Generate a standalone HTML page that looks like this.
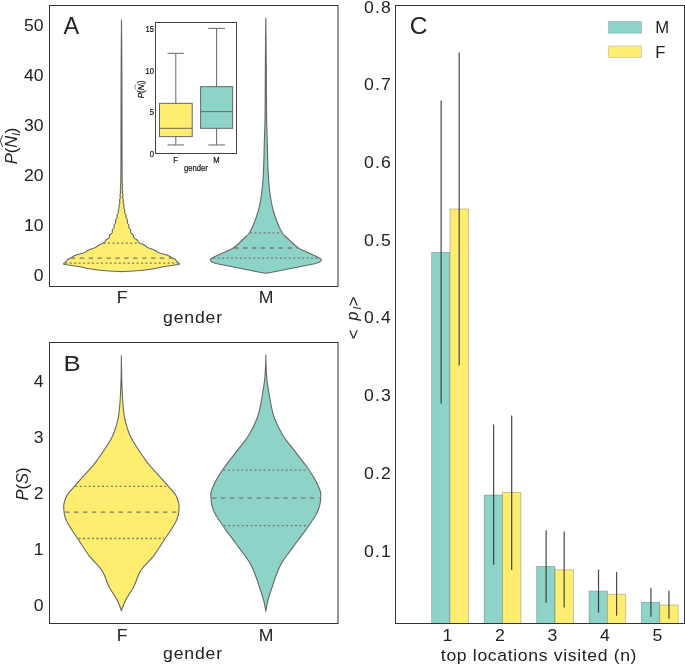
<!DOCTYPE html>
<html><head><meta charset="utf-8"><style>
html,body{margin:0;padding:0;background:#fff;}
svg{display:block;will-change:transform;}
text{font-family:"Liberation Sans", sans-serif;}
</style></head><body>
<svg width="685" height="664" viewBox="0 0 685 664">
<rect width="685" height="664" fill="#fff"/>
<rect x="49.5" y="5.5" width="288.5" height="281" fill="none" stroke="#333" stroke-width="1"/>
<path d="M121.50,20.00 L121.50,20.25 L121.50,20.50 L121.49,20.75 L121.49,21.00 L121.49,21.25 L121.49,21.50 L121.48,21.75 L121.48,22.00 L121.48,22.25 L121.48,22.50 L121.47,22.75 L121.47,23.00 L121.47,23.25 L121.47,23.50 L121.47,23.75 L121.46,24.00 L121.46,24.25 L121.46,24.50 L121.46,24.75 L121.45,25.00 L121.45,25.25 L121.45,25.50 L121.45,25.75 L121.45,26.00 L121.44,26.25 L121.44,26.50 L121.44,26.75 L121.44,27.00 L121.43,27.25 L121.43,27.50 L121.43,27.75 L121.43,28.00 L121.43,28.25 L121.42,28.50 L121.42,28.75 L121.42,29.00 L121.42,29.25 L121.41,29.50 L121.41,29.75 L121.41,30.00 L121.41,30.25 L121.41,30.50 L121.40,30.75 L121.40,31.00 L121.40,31.25 L121.40,31.50 L121.40,31.75 L121.39,32.00 L121.39,32.25 L121.39,32.50 L121.39,32.75 L121.38,33.00 L121.38,33.25 L121.38,33.50 L121.38,33.75 L121.38,34.00 L121.37,34.25 L121.37,34.50 L121.37,34.75 L121.37,35.00 L121.37,35.25 L121.36,35.50 L121.36,35.75 L121.36,36.00 L121.36,36.25 L121.36,36.50 L121.35,36.75 L121.35,37.00 L121.35,37.25 L121.35,37.50 L121.35,37.75 L121.34,38.00 L121.34,38.25 L121.34,38.50 L121.34,38.75 L121.34,39.00 L121.33,39.25 L121.33,39.50 L121.33,39.75 L121.33,40.00 L121.33,40.25 L121.32,40.50 L121.32,40.75 L121.32,41.00 L121.32,41.25 L121.32,41.50 L121.31,41.75 L121.31,42.00 L121.31,42.25 L121.31,42.50 L121.31,42.75 L121.31,43.00 L121.30,43.25 L121.30,43.50 L121.30,43.75 L121.30,44.00 L121.30,44.25 L121.29,44.50 L121.29,44.75 L121.29,45.00 L121.29,45.25 L121.29,45.50 L121.29,45.75 L121.28,46.00 L121.28,46.25 L121.28,46.50 L121.28,46.75 L121.28,47.00 L121.27,47.25 L121.27,47.50 L121.27,47.75 L121.27,48.00 L121.27,48.25 L121.27,48.50 L121.26,48.75 L121.26,49.00 L121.26,49.25 L121.26,49.50 L121.26,49.75 L121.26,50.00 L121.25,50.25 L121.25,50.50 L121.25,50.75 L121.25,51.00 L121.25,51.25 L121.25,51.50 L121.25,51.75 L121.24,52.00 L121.24,52.25 L121.24,52.50 L121.24,52.75 L121.24,53.00 L121.24,53.25 L121.23,53.50 L121.23,53.75 L121.23,54.00 L121.23,54.25 L121.23,54.50 L121.23,54.75 L121.23,55.00 L121.22,55.25 L121.22,55.50 L121.22,55.75 L121.22,56.00 L121.22,56.25 L121.22,56.50 L121.22,56.75 L121.22,57.00 L121.21,57.25 L121.21,57.50 L121.21,57.75 L121.21,58.00 L121.21,58.25 L121.21,58.50 L121.21,58.75 L121.20,59.00 L121.20,59.25 L121.20,59.50 L121.20,59.75 L121.20,60.00 L121.20,60.25 L121.20,60.50 L121.20,60.75 L121.20,61.00 L121.19,61.25 L121.19,61.50 L121.19,61.75 L121.19,62.00 L121.19,62.25 L121.19,62.50 L121.19,62.75 L121.19,63.00 L121.18,63.25 L121.18,63.50 L121.18,63.75 L121.18,64.00 L121.18,64.25 L121.18,64.50 L121.18,64.75 L121.18,65.00 L121.18,65.25 L121.17,65.50 L121.17,65.75 L121.17,66.00 L121.17,66.25 L121.17,66.50 L121.17,66.75 L121.17,67.00 L121.17,67.25 L121.17,67.50 L121.17,67.75 L121.16,68.00 L121.16,68.25 L121.16,68.50 L121.16,68.75 L121.16,69.00 L121.16,69.25 L121.16,69.50 L121.16,69.75 L121.16,70.00 L121.15,70.25 L121.15,70.50 L121.15,70.75 L121.15,71.00 L121.15,71.25 L121.15,71.50 L121.15,71.75 L121.15,72.00 L121.15,72.25 L121.15,72.50 L121.14,72.75 L121.14,73.00 L121.14,73.25 L121.14,73.50 L121.14,73.75 L121.14,74.00 L121.14,74.25 L121.14,74.50 L121.14,74.75 L121.14,75.00 L121.13,75.25 L121.13,75.50 L121.13,75.75 L121.13,76.00 L121.13,76.25 L121.13,76.50 L121.13,76.75 L121.13,77.00 L121.13,77.25 L121.13,77.50 L121.13,77.75 L121.12,78.00 L121.12,78.25 L121.12,78.50 L121.12,78.75 L121.12,79.00 L121.12,79.25 L121.12,79.50 L121.12,79.75 L121.12,80.00 L121.12,80.25 L121.11,80.50 L121.11,80.75 L121.11,81.00 L121.11,81.25 L121.11,81.50 L121.11,81.75 L121.11,82.00 L121.11,82.25 L121.11,82.50 L121.11,82.75 L121.11,83.00 L121.11,83.25 L121.10,83.50 L121.10,83.75 L121.10,84.00 L121.10,84.25 L121.10,84.50 L121.10,84.75 L121.10,85.00 L121.10,85.25 L121.10,85.50 L121.10,85.75 L121.10,86.00 L121.09,86.25 L121.09,86.50 L121.09,86.75 L121.09,87.00 L121.09,87.25 L121.09,87.50 L121.09,87.75 L121.09,88.00 L121.09,88.25 L121.09,88.50 L121.09,88.75 L121.09,89.00 L121.08,89.25 L121.08,89.50 L121.08,89.75 L121.08,90.00 L121.08,90.25 L121.08,90.50 L121.08,90.75 L121.08,91.00 L121.08,91.25 L121.08,91.50 L121.08,91.75 L121.08,92.00 L121.08,92.25 L121.07,92.50 L121.07,92.75 L121.07,93.00 L121.07,93.25 L121.07,93.50 L121.07,93.75 L121.07,94.00 L121.07,94.25 L121.07,94.50 L121.07,94.75 L121.07,95.00 L121.07,95.25 L121.07,95.50 L121.06,95.75 L121.06,96.00 L121.06,96.25 L121.06,96.50 L121.06,96.75 L121.06,97.00 L121.06,97.25 L121.06,97.50 L121.06,97.75 L121.06,98.00 L121.06,98.25 L121.06,98.50 L121.06,98.75 L121.05,99.00 L121.05,99.25 L121.05,99.50 L121.05,99.75 L121.05,100.00 L121.05,100.25 L121.05,100.50 L121.05,100.75 L121.05,101.00 L121.05,101.25 L121.05,101.50 L121.05,101.75 L121.05,102.00 L121.05,102.25 L121.05,102.50 L121.04,102.75 L121.04,103.00 L121.04,103.25 L121.04,103.50 L121.04,103.75 L121.04,104.00 L121.04,104.25 L121.04,104.50 L121.04,104.75 L121.04,105.00 L121.04,105.25 L121.04,105.50 L121.04,105.75 L121.04,106.00 L121.03,106.25 L121.03,106.50 L121.03,106.75 L121.03,107.00 L121.03,107.25 L121.03,107.50 L121.03,107.75 L121.03,108.00 L121.03,108.25 L121.03,108.50 L121.03,108.75 L121.03,109.00 L121.03,109.25 L121.03,109.50 L121.03,109.75 L121.02,110.00 L121.02,110.25 L121.02,110.50 L121.02,110.75 L121.02,111.00 L121.02,111.25 L121.02,111.50 L121.02,111.75 L121.02,112.00 L121.02,112.25 L121.02,112.50 L121.02,112.75 L121.02,113.00 L121.02,113.25 L121.02,113.50 L121.02,113.75 L121.01,114.00 L121.01,114.25 L121.01,114.50 L121.01,114.75 L121.01,115.00 L121.01,115.25 L121.01,115.50 L121.01,115.75 L121.01,116.00 L121.01,116.25 L121.01,116.50 L121.01,116.75 L121.01,117.00 L121.01,117.25 L121.01,117.50 L121.01,117.75 L121.00,118.00 L121.00,118.25 L121.00,118.50 L121.00,118.75 L121.00,119.00 L121.00,119.25 L121.00,119.50 L121.00,119.75 L121.00,120.00 L121.00,120.25 L121.00,120.50 L121.00,120.75 L121.00,121.00 L121.00,121.25 L121.00,121.50 L121.00,121.75 L121.00,122.00 L120.99,122.25 L120.99,122.50 L120.99,122.75 L120.99,123.00 L120.99,123.25 L120.99,123.50 L120.99,123.75 L120.99,124.00 L120.99,124.25 L120.99,124.50 L120.99,124.75 L120.99,125.00 L120.99,125.25 L120.99,125.50 L120.99,125.75 L120.99,126.00 L120.99,126.25 L120.99,126.50 L120.99,126.75 L120.99,127.00 L120.99,127.25 L120.99,127.50 L120.98,127.75 L120.98,128.00 L120.98,128.25 L120.98,128.50 L120.98,128.75 L120.98,129.00 L120.98,129.25 L120.98,129.50 L120.98,129.75 L120.98,130.00 L120.98,130.25 L120.98,130.50 L120.98,130.75 L120.98,131.00 L120.98,131.25 L120.98,131.50 L120.98,131.75 L120.98,132.00 L120.98,132.25 L120.98,132.50 L120.98,132.75 L120.98,133.00 L120.98,133.25 L120.98,133.50 L120.98,133.75 L120.98,134.00 L120.98,134.25 L120.98,134.50 L120.97,134.75 L120.97,135.00 L120.97,135.25 L120.97,135.50 L120.97,135.75 L120.97,136.00 L120.97,136.25 L120.97,136.50 L120.97,136.75 L120.97,137.00 L120.97,137.25 L120.97,137.50 L120.97,137.75 L120.97,138.00 L120.97,138.25 L120.97,138.50 L120.97,138.75 L120.97,139.00 L120.97,139.25 L120.97,139.50 L120.97,139.75 L120.97,140.00 L120.97,140.25 L120.97,140.50 L120.97,140.75 L120.97,141.00 L120.97,141.25 L120.97,141.50 L120.97,141.75 L120.97,142.00 L120.97,142.25 L120.97,142.50 L120.97,142.75 L120.97,143.00 L120.97,143.25 L120.96,143.50 L120.96,143.75 L120.96,144.00 L120.96,144.25 L120.96,144.50 L120.96,144.75 L120.96,145.00 L120.96,145.25 L120.96,145.50 L120.96,145.75 L120.96,146.00 L120.96,146.25 L120.96,146.50 L120.96,146.75 L120.96,147.00 L120.96,147.25 L120.96,147.50 L120.96,147.75 L120.96,148.00 L120.96,148.25 L120.96,148.50 L120.96,148.75 L120.96,149.00 L120.96,149.25 L120.96,149.50 L120.96,149.75 L120.96,150.00 L120.96,150.25 L120.96,150.50 L120.96,150.75 L120.96,151.00 L120.96,151.25 L120.95,151.50 L120.95,151.75 L120.95,152.00 L120.95,152.25 L120.95,152.50 L120.95,152.75 L120.95,153.00 L120.95,153.25 L120.95,153.50 L120.95,153.75 L120.95,154.00 L120.95,154.25 L120.95,154.50 L120.95,154.75 L120.95,155.00 L120.95,155.25 L120.95,155.50 L120.95,155.75 L120.95,156.00 L120.95,156.25 L120.95,156.50 L120.95,156.75 L120.95,157.00 L120.95,157.25 L120.94,157.50 L120.94,157.75 L120.94,158.00 L120.94,158.25 L120.94,158.50 L120.94,158.75 L120.94,159.00 L120.94,159.25 L120.94,159.50 L120.94,159.75 L120.94,160.00 L120.94,160.25 L120.94,160.50 L120.94,160.75 L120.94,161.00 L120.94,161.25 L120.94,161.50 L120.94,161.75 L120.94,162.00 L120.93,162.25 L120.93,162.50 L120.93,162.75 L120.93,163.00 L120.93,163.25 L120.93,163.50 L120.93,163.75 L120.93,164.00 L120.93,164.25 L120.93,164.50 L120.93,164.75 L120.93,165.00 L120.93,165.25 L120.93,165.50 L120.93,165.75 L120.92,166.00 L120.92,166.25 L120.92,166.50 L120.92,166.75 L120.92,167.00 L120.92,167.25 L120.92,167.50 L120.92,167.75 L120.92,168.00 L120.92,168.25 L120.92,168.50 L120.92,168.75 L120.91,169.00 L120.91,169.25 L120.91,169.50 L120.91,169.75 L120.91,170.00 L120.91,170.25 L120.91,170.50 L120.91,170.75 L120.91,171.00 L120.91,171.25 L120.91,171.50 L120.90,171.75 L120.90,172.00 L120.90,172.25 L120.90,172.50 L120.90,172.75 L120.90,173.00 L120.90,173.25 L120.90,173.50 L120.90,173.75 L120.89,174.00 L120.89,174.25 L120.89,174.50 L120.89,174.75 L120.89,175.00 L120.88,175.25 L120.88,175.50 L120.88,175.75 L120.87,176.00 L120.87,176.25 L120.87,176.50 L120.86,176.75 L120.86,177.00 L120.86,177.25 L120.85,177.50 L120.85,177.75 L120.84,178.00 L120.84,178.25 L120.84,178.50 L120.83,178.75 L120.82,179.00 L120.81,179.25 L120.79,179.50 L120.78,179.75 L120.76,180.00 L120.75,180.25 L120.74,180.50 L120.75,180.75 L120.75,181.00 L120.77,181.25 L120.78,181.50 L120.80,181.75 L120.82,182.00 L120.84,182.25 L120.84,182.50 L120.84,182.75 L120.83,183.00 L120.80,183.25 L120.77,183.50 L120.72,183.75 L120.68,184.00 L120.63,184.25 L120.58,184.50 L120.54,184.75 L120.51,185.00 L120.50,185.25 L120.51,185.50 L120.53,185.75 L120.56,186.00 L120.61,186.25 L120.66,186.50 L120.71,186.75 L120.75,187.00 L120.79,187.25 L120.80,187.50 L120.80,187.75 L120.77,188.00 L120.72,188.25 L120.65,188.50 L120.57,188.75 L120.49,189.00 L120.42,189.25 L120.35,189.50 L120.30,189.75 L120.27,190.00 L120.26,190.25 L120.28,190.50 L120.31,190.75 L120.36,191.00 L120.42,191.25 L120.48,191.50 L120.54,191.75 L120.58,192.00 L120.61,192.25 L120.62,192.50 L120.61,192.75 L120.57,193.00 L120.51,193.25 L120.43,193.50 L120.35,193.75 L120.26,194.00 L120.18,194.25 L120.10,194.50 L120.04,194.75 L120.01,195.00 L119.99,195.25 L120.00,195.50 L120.03,195.75 L120.07,196.00 L120.12,196.25 L120.18,196.50 L120.23,196.75 L120.28,197.00 L120.30,197.25 L120.30,197.50 L120.28,197.75 L120.23,198.00 L120.17,198.25 L120.08,198.50 L119.99,198.75 L119.89,199.00 L119.79,199.25 L119.71,199.50 L119.64,199.75 L119.60,200.00 L119.57,200.25 L119.58,200.50 L119.60,200.75 L119.64,201.00 L119.69,201.25 L119.75,201.50 L119.80,201.75 L119.83,202.00 L119.85,202.25 L119.85,202.50 L119.82,202.75 L119.77,203.00 L119.69,203.25 L119.60,203.50 L119.49,203.75 L119.38,204.00 L119.28,204.25 L119.18,204.50 L119.11,204.75 L119.06,205.00 L119.03,205.25 L119.03,205.50 L119.05,205.75 L119.09,206.00 L119.14,206.25 L119.19,206.50 L119.23,206.75 L119.27,207.00 L119.28,207.25 L119.27,207.50 L119.22,207.75 L119.16,208.00 L119.06,208.25 L118.95,208.50 L118.82,208.75 L118.68,209.00 L118.55,209.25 L118.43,209.50 L118.33,209.75 L118.26,210.00 L118.21,210.25 L118.18,210.50 L118.19,210.75 L118.21,211.00 L118.24,211.25 L118.28,211.50 L118.31,211.75 L118.33,212.00 L118.33,212.25 L118.29,212.50 L118.23,212.75 L118.14,213.00 L118.02,213.25 L117.88,213.50 L117.72,213.75 L117.56,214.00 L117.41,214.25 L117.26,214.50 L117.14,214.75 L117.04,215.00 L116.98,215.25 L116.94,215.50 L116.94,215.75 L116.96,216.00 L116.99,216.25 L117.03,216.50 L117.06,216.75 L117.08,217.00 L117.07,217.25 L117.03,217.50 L116.96,217.75 L116.86,218.00 L116.72,218.25 L116.57,218.50 L116.39,218.75 L116.21,219.00 L116.03,219.25 L115.88,219.50 L115.74,219.75 L115.64,220.00 L115.57,220.25 L115.54,220.50 L115.54,220.75 L115.56,221.00 L115.61,221.25 L115.65,221.50 L115.70,221.75 L115.72,222.00 L115.72,222.25 L115.69,222.50 L115.61,222.75 L115.50,223.00 L115.36,223.25 L115.18,223.50 L114.99,223.75 L114.79,224.00 L114.60,224.25 L114.42,224.50 L114.27,224.75 L114.16,225.00 L114.08,225.25 L114.05,225.50 L114.05,225.75 L114.07,226.00 L114.12,226.25 L114.17,226.50 L114.21,226.75 L114.23,227.00 L114.22,227.25 L114.18,227.50 L114.09,227.75 L113.96,228.00 L113.78,228.25 L113.58,228.50 L113.36,228.75 L113.12,229.00 L112.89,229.25 L112.68,229.50 L112.50,229.75 L112.36,230.00 L112.26,230.25 L112.21,230.50 L112.19,230.75 L112.21,231.00 L112.24,231.25 L112.28,231.50 L112.31,231.75 L112.32,232.00 L112.30,232.25 L112.23,232.50 L112.11,232.75 L111.94,233.00 L111.72,233.25 L111.47,233.50 L111.18,233.75 L110.89,234.00 L110.59,234.25 L110.32,234.50 L110.07,234.75 L109.87,235.00 L109.71,235.25 L109.60,235.50 L109.54,235.75 L109.51,236.00 L109.50,236.25 L109.50,236.50 L109.48,236.75 L109.44,237.00 L109.36,237.25 L109.22,237.50 L109.03,237.75 L108.77,238.00 L108.45,238.25 L108.09,238.50 L107.70,238.75 L107.28,239.00 L106.88,239.25 L106.49,239.50 L106.15,239.75 L105.86,240.00 L105.62,240.25 L105.44,240.50 L105.30,240.75 L105.20,241.00 L105.11,241.25 L105.02,241.50 L104.91,241.75 L104.75,242.00 L104.54,242.25 L104.27,242.50 L103.92,242.75 L103.50,243.00 L103.01,243.25 L102.48,243.50 L101.90,243.75 L101.29,244.00 L100.68,244.25 L100.09,244.50 L99.52,244.75 L99.00,245.00 L98.53,245.25 L98.11,245.50 L97.73,245.75 L97.39,246.00 L97.07,246.25 L96.76,246.50 L96.42,246.75 L96.05,247.00 L95.64,247.25 L95.16,247.50 L94.63,247.75 L94.03,248.00 L93.38,248.25 L92.69,248.50 L91.98,248.75 L91.26,249.00 L90.56,249.25 L89.88,249.50 L89.25,249.75 L88.67,250.00 L88.16,250.25 L87.70,250.50 L87.29,250.75 L86.92,251.00 L86.57,251.25 L86.23,251.50 L85.86,251.75 L85.46,252.00 L85.00,252.25 L84.47,252.50 L83.85,252.75 L83.14,253.00 L82.34,253.25 L81.49,253.50 L80.60,253.75 L79.68,254.00 L78.77,254.25 L77.89,254.50 L77.05,254.75 L76.28,255.00 L75.57,255.25 L74.94,255.50 L74.38,255.75 L73.89,256.00 L73.44,256.25 L73.03,256.50 L72.64,256.75 L72.25,257.00 L71.86,257.25 L71.45,257.50 L71.02,257.75 L70.57,258.00 L70.05,258.25 L69.54,258.50 L69.03,258.75 L68.57,259.00 L68.15,259.25 L67.78,259.50 L67.47,259.75 L67.21,260.00 L67.00,260.25 L66.81,260.50 L66.63,260.75 L66.45,261.00 L66.25,261.25 L66.03,261.50 L65.78,261.75 L65.50,262.00 L65.21,262.25 L64.89,262.50 L64.56,262.75 L64.24,263.00 L63.95,263.25 L63.71,263.50 L63.56,263.75 L63.50,264.00 L63.93,264.25 L65.05,264.50 L66.58,264.75 L68.25,265.00 L69.80,265.25 L71.44,265.50 L73.27,265.75 L75.15,266.00 L76.93,266.25 L78.50,266.50 L79.83,266.75 L81.02,267.00 L82.13,267.25 L83.20,267.50 L84.30,267.75 L85.47,268.00 L86.77,268.25 L88.12,268.50 L89.51,268.75 L90.97,269.00 L92.53,269.25 L94.23,269.50 L96.10,269.75 L98.17,270.00 L100.49,270.25 L103.11,270.50 L106.10,270.75 L109.50,271.00 L113.85,271.25 L119.21,271.50 L121.50,271.60 L121.50,271.60 L123.79,271.50 L129.15,271.25 L133.50,271.00 L136.90,270.75 L139.89,270.50 L142.51,270.25 L144.83,270.00 L146.90,269.75 L148.77,269.50 L150.47,269.25 L152.03,269.00 L153.49,268.75 L154.88,268.50 L156.23,268.25 L157.53,268.00 L158.70,267.75 L159.80,267.50 L160.87,267.25 L161.98,267.00 L163.17,266.75 L164.50,266.50 L166.07,266.25 L167.85,266.00 L169.73,265.75 L171.56,265.50 L173.20,265.25 L174.75,265.00 L176.42,264.75 L177.95,264.50 L179.07,264.25 L179.50,264.00 L179.44,263.75 L179.29,263.50 L179.05,263.25 L178.76,263.00 L178.44,262.75 L178.11,262.50 L177.79,262.25 L177.50,262.00 L177.22,261.75 L176.97,261.50 L176.75,261.25 L176.55,261.00 L176.37,260.75 L176.19,260.50 L176.00,260.25 L175.79,260.00 L175.53,259.75 L175.22,259.50 L174.85,259.25 L174.43,259.00 L173.97,258.75 L173.46,258.50 L172.95,258.25 L172.43,258.00 L171.98,257.75 L171.55,257.50 L171.14,257.25 L170.75,257.00 L170.36,256.75 L169.97,256.50 L169.56,256.25 L169.11,256.00 L168.62,255.75 L168.06,255.50 L167.43,255.25 L166.72,255.00 L165.95,254.75 L165.11,254.50 L164.23,254.25 L163.32,254.00 L162.40,253.75 L161.51,253.50 L160.66,253.25 L159.86,253.00 L159.15,252.75 L158.53,252.50 L158.00,252.25 L157.54,252.00 L157.14,251.75 L156.77,251.50 L156.43,251.25 L156.08,251.00 L155.71,250.75 L155.30,250.50 L154.84,250.25 L154.33,250.00 L153.75,249.75 L153.12,249.50 L152.44,249.25 L151.74,249.00 L151.02,248.75 L150.31,248.50 L149.62,248.25 L148.97,248.00 L148.37,247.75 L147.84,247.50 L147.36,247.25 L146.95,247.00 L146.58,246.75 L146.24,246.50 L145.93,246.25 L145.61,246.00 L145.27,245.75 L144.89,245.50 L144.47,245.25 L144.00,245.00 L143.48,244.75 L142.91,244.50 L142.32,244.25 L141.71,244.00 L141.10,243.75 L140.52,243.50 L139.99,243.25 L139.50,243.00 L139.08,242.75 L138.73,242.50 L138.46,242.25 L138.25,242.00 L138.09,241.75 L137.98,241.50 L137.89,241.25 L137.80,241.00 L137.70,240.75 L137.56,240.50 L137.38,240.25 L137.14,240.00 L136.85,239.75 L136.51,239.50 L136.12,239.25 L135.72,239.00 L135.30,238.75 L134.91,238.50 L134.55,238.25 L134.23,238.00 L133.97,237.75 L133.78,237.50 L133.64,237.25 L133.56,237.00 L133.52,236.75 L133.50,236.50 L133.50,236.25 L133.49,236.00 L133.46,235.75 L133.40,235.50 L133.29,235.25 L133.13,235.00 L132.93,234.75 L132.68,234.50 L132.41,234.25 L132.11,234.00 L131.82,233.75 L131.53,233.50 L131.28,233.25 L131.06,233.00 L130.89,232.75 L130.77,232.50 L130.70,232.25 L130.68,232.00 L130.69,231.75 L130.72,231.50 L130.76,231.25 L130.79,231.00 L130.81,230.75 L130.79,230.50 L130.74,230.25 L130.64,230.00 L130.50,229.75 L130.32,229.50 L130.11,229.25 L129.88,229.00 L129.64,228.75 L129.42,228.50 L129.22,228.25 L129.04,228.00 L128.91,227.75 L128.82,227.50 L128.78,227.25 L128.77,227.00 L128.79,226.75 L128.83,226.50 L128.88,226.25 L128.93,226.00 L128.95,225.75 L128.95,225.50 L128.92,225.25 L128.84,225.00 L128.73,224.75 L128.58,224.50 L128.40,224.25 L128.21,224.00 L128.01,223.75 L127.82,223.50 L127.64,223.25 L127.50,223.00 L127.39,222.75 L127.31,222.50 L127.28,222.25 L127.28,222.00 L127.30,221.75 L127.35,221.50 L127.39,221.25 L127.44,221.00 L127.46,220.75 L127.46,220.50 L127.43,220.25 L127.36,220.00 L127.26,219.75 L127.12,219.50 L126.97,219.25 L126.79,219.00 L126.61,218.75 L126.43,218.50 L126.28,218.25 L126.14,218.00 L126.04,217.75 L125.97,217.50 L125.93,217.25 L125.92,217.00 L125.94,216.75 L125.97,216.50 L126.01,216.25 L126.04,216.00 L126.06,215.75 L126.06,215.50 L126.02,215.25 L125.96,215.00 L125.86,214.75 L125.74,214.50 L125.59,214.25 L125.44,214.00 L125.28,213.75 L125.12,213.50 L124.98,213.25 L124.86,213.00 L124.77,212.75 L124.71,212.50 L124.67,212.25 L124.67,212.00 L124.69,211.75 L124.72,211.50 L124.76,211.25 L124.79,211.00 L124.81,210.75 L124.82,210.50 L124.79,210.25 L124.74,210.00 L124.67,209.75 L124.57,209.50 L124.45,209.25 L124.32,209.00 L124.18,208.75 L124.05,208.50 L123.94,208.25 L123.84,208.00 L123.78,207.75 L123.73,207.50 L123.72,207.25 L123.73,207.00 L123.77,206.75 L123.81,206.50 L123.86,206.25 L123.91,206.00 L123.95,205.75 L123.97,205.50 L123.97,205.25 L123.94,205.00 L123.89,204.75 L123.82,204.50 L123.72,204.25 L123.62,204.00 L123.51,203.75 L123.40,203.50 L123.31,203.25 L123.23,203.00 L123.18,202.75 L123.15,202.50 L123.15,202.25 L123.17,202.00 L123.20,201.75 L123.25,201.50 L123.31,201.25 L123.36,201.00 L123.40,200.75 L123.42,200.50 L123.43,200.25 L123.40,200.00 L123.36,199.75 L123.29,199.50 L123.21,199.25 L123.11,199.00 L123.01,198.75 L122.92,198.50 L122.83,198.25 L122.77,198.00 L122.72,197.75 L122.70,197.50 L122.70,197.25 L122.72,197.00 L122.77,196.75 L122.82,196.50 L122.88,196.25 L122.93,196.00 L122.97,195.75 L123.00,195.50 L123.01,195.25 L122.99,195.00 L122.96,194.75 L122.90,194.50 L122.82,194.25 L122.74,194.00 L122.65,193.75 L122.57,193.50 L122.49,193.25 L122.43,193.00 L122.39,192.75 L122.38,192.50 L122.39,192.25 L122.42,192.00 L122.46,191.75 L122.52,191.50 L122.58,191.25 L122.64,191.00 L122.69,190.75 L122.72,190.50 L122.74,190.25 L122.73,190.00 L122.70,189.75 L122.65,189.50 L122.58,189.25 L122.51,189.00 L122.43,188.75 L122.35,188.50 L122.28,188.25 L122.23,188.00 L122.20,187.75 L122.20,187.50 L122.21,187.25 L122.25,187.00 L122.29,186.75 L122.34,186.50 L122.39,186.25 L122.44,186.00 L122.47,185.75 L122.49,185.50 L122.50,185.25 L122.49,185.00 L122.46,184.75 L122.42,184.50 L122.37,184.25 L122.32,184.00 L122.28,183.75 L122.23,183.50 L122.20,183.25 L122.17,183.00 L122.16,182.75 L122.16,182.50 L122.16,182.25 L122.18,182.00 L122.20,181.75 L122.22,181.50 L122.23,181.25 L122.25,181.00 L122.25,180.75 L122.26,180.50 L122.25,180.25 L122.24,180.00 L122.22,179.75 L122.21,179.50 L122.19,179.25 L122.18,179.00 L122.17,178.75 L122.16,178.50 L122.16,178.25 L122.16,178.00 L122.15,177.75 L122.15,177.50 L122.14,177.25 L122.14,177.00 L122.14,176.75 L122.13,176.50 L122.13,176.25 L122.13,176.00 L122.12,175.75 L122.12,175.50 L122.12,175.25 L122.11,175.00 L122.11,174.75 L122.11,174.50 L122.11,174.25 L122.11,174.00 L122.10,173.75 L122.10,173.50 L122.10,173.25 L122.10,173.00 L122.10,172.75 L122.10,172.50 L122.10,172.25 L122.10,172.00 L122.10,171.75 L122.09,171.50 L122.09,171.25 L122.09,171.00 L122.09,170.75 L122.09,170.50 L122.09,170.25 L122.09,170.00 L122.09,169.75 L122.09,169.50 L122.09,169.25 L122.09,169.00 L122.08,168.75 L122.08,168.50 L122.08,168.25 L122.08,168.00 L122.08,167.75 L122.08,167.50 L122.08,167.25 L122.08,167.00 L122.08,166.75 L122.08,166.50 L122.08,166.25 L122.08,166.00 L122.07,165.75 L122.07,165.50 L122.07,165.25 L122.07,165.00 L122.07,164.75 L122.07,164.50 L122.07,164.25 L122.07,164.00 L122.07,163.75 L122.07,163.50 L122.07,163.25 L122.07,163.00 L122.07,162.75 L122.07,162.50 L122.07,162.25 L122.06,162.00 L122.06,161.75 L122.06,161.50 L122.06,161.25 L122.06,161.00 L122.06,160.75 L122.06,160.50 L122.06,160.25 L122.06,160.00 L122.06,159.75 L122.06,159.50 L122.06,159.25 L122.06,159.00 L122.06,158.75 L122.06,158.50 L122.06,158.25 L122.06,158.00 L122.06,157.75 L122.06,157.50 L122.05,157.25 L122.05,157.00 L122.05,156.75 L122.05,156.50 L122.05,156.25 L122.05,156.00 L122.05,155.75 L122.05,155.50 L122.05,155.25 L122.05,155.00 L122.05,154.75 L122.05,154.50 L122.05,154.25 L122.05,154.00 L122.05,153.75 L122.05,153.50 L122.05,153.25 L122.05,153.00 L122.05,152.75 L122.05,152.50 L122.05,152.25 L122.05,152.00 L122.05,151.75 L122.05,151.50 L122.04,151.25 L122.04,151.00 L122.04,150.75 L122.04,150.50 L122.04,150.25 L122.04,150.00 L122.04,149.75 L122.04,149.50 L122.04,149.25 L122.04,149.00 L122.04,148.75 L122.04,148.50 L122.04,148.25 L122.04,148.00 L122.04,147.75 L122.04,147.50 L122.04,147.25 L122.04,147.00 L122.04,146.75 L122.04,146.50 L122.04,146.25 L122.04,146.00 L122.04,145.75 L122.04,145.50 L122.04,145.25 L122.04,145.00 L122.04,144.75 L122.04,144.50 L122.04,144.25 L122.04,144.00 L122.04,143.75 L122.04,143.50 L122.03,143.25 L122.03,143.00 L122.03,142.75 L122.03,142.50 L122.03,142.25 L122.03,142.00 L122.03,141.75 L122.03,141.50 L122.03,141.25 L122.03,141.00 L122.03,140.75 L122.03,140.50 L122.03,140.25 L122.03,140.00 L122.03,139.75 L122.03,139.50 L122.03,139.25 L122.03,139.00 L122.03,138.75 L122.03,138.50 L122.03,138.25 L122.03,138.00 L122.03,137.75 L122.03,137.50 L122.03,137.25 L122.03,137.00 L122.03,136.75 L122.03,136.50 L122.03,136.25 L122.03,136.00 L122.03,135.75 L122.03,135.50 L122.03,135.25 L122.03,135.00 L122.03,134.75 L122.02,134.50 L122.02,134.25 L122.02,134.00 L122.02,133.75 L122.02,133.50 L122.02,133.25 L122.02,133.00 L122.02,132.75 L122.02,132.50 L122.02,132.25 L122.02,132.00 L122.02,131.75 L122.02,131.50 L122.02,131.25 L122.02,131.00 L122.02,130.75 L122.02,130.50 L122.02,130.25 L122.02,130.00 L122.02,129.75 L122.02,129.50 L122.02,129.25 L122.02,129.00 L122.02,128.75 L122.02,128.50 L122.02,128.25 L122.02,128.00 L122.02,127.75 L122.01,127.50 L122.01,127.25 L122.01,127.00 L122.01,126.75 L122.01,126.50 L122.01,126.25 L122.01,126.00 L122.01,125.75 L122.01,125.50 L122.01,125.25 L122.01,125.00 L122.01,124.75 L122.01,124.50 L122.01,124.25 L122.01,124.00 L122.01,123.75 L122.01,123.50 L122.01,123.25 L122.01,123.00 L122.01,122.75 L122.01,122.50 L122.01,122.25 L122.00,122.00 L122.00,121.75 L122.00,121.50 L122.00,121.25 L122.00,121.00 L122.00,120.75 L122.00,120.50 L122.00,120.25 L122.00,120.00 L122.00,119.75 L122.00,119.50 L122.00,119.25 L122.00,119.00 L122.00,118.75 L122.00,118.50 L122.00,118.25 L122.00,118.00 L121.99,117.75 L121.99,117.50 L121.99,117.25 L121.99,117.00 L121.99,116.75 L121.99,116.50 L121.99,116.25 L121.99,116.00 L121.99,115.75 L121.99,115.50 L121.99,115.25 L121.99,115.00 L121.99,114.75 L121.99,114.50 L121.99,114.25 L121.99,114.00 L121.98,113.75 L121.98,113.50 L121.98,113.25 L121.98,113.00 L121.98,112.75 L121.98,112.50 L121.98,112.25 L121.98,112.00 L121.98,111.75 L121.98,111.50 L121.98,111.25 L121.98,111.00 L121.98,110.75 L121.98,110.50 L121.98,110.25 L121.98,110.00 L121.97,109.75 L121.97,109.50 L121.97,109.25 L121.97,109.00 L121.97,108.75 L121.97,108.50 L121.97,108.25 L121.97,108.00 L121.97,107.75 L121.97,107.50 L121.97,107.25 L121.97,107.00 L121.97,106.75 L121.97,106.50 L121.97,106.25 L121.96,106.00 L121.96,105.75 L121.96,105.50 L121.96,105.25 L121.96,105.00 L121.96,104.75 L121.96,104.50 L121.96,104.25 L121.96,104.00 L121.96,103.75 L121.96,103.50 L121.96,103.25 L121.96,103.00 L121.96,102.75 L121.95,102.50 L121.95,102.25 L121.95,102.00 L121.95,101.75 L121.95,101.50 L121.95,101.25 L121.95,101.00 L121.95,100.75 L121.95,100.50 L121.95,100.25 L121.95,100.00 L121.95,99.75 L121.95,99.50 L121.95,99.25 L121.95,99.00 L121.94,98.75 L121.94,98.50 L121.94,98.25 L121.94,98.00 L121.94,97.75 L121.94,97.50 L121.94,97.25 L121.94,97.00 L121.94,96.75 L121.94,96.50 L121.94,96.25 L121.94,96.00 L121.94,95.75 L121.93,95.50 L121.93,95.25 L121.93,95.00 L121.93,94.75 L121.93,94.50 L121.93,94.25 L121.93,94.00 L121.93,93.75 L121.93,93.50 L121.93,93.25 L121.93,93.00 L121.93,92.75 L121.93,92.50 L121.92,92.25 L121.92,92.00 L121.92,91.75 L121.92,91.50 L121.92,91.25 L121.92,91.00 L121.92,90.75 L121.92,90.50 L121.92,90.25 L121.92,90.00 L121.92,89.75 L121.92,89.50 L121.92,89.25 L121.91,89.00 L121.91,88.75 L121.91,88.50 L121.91,88.25 L121.91,88.00 L121.91,87.75 L121.91,87.50 L121.91,87.25 L121.91,87.00 L121.91,86.75 L121.91,86.50 L121.91,86.25 L121.90,86.00 L121.90,85.75 L121.90,85.50 L121.90,85.25 L121.90,85.00 L121.90,84.75 L121.90,84.50 L121.90,84.25 L121.90,84.00 L121.90,83.75 L121.90,83.50 L121.89,83.25 L121.89,83.00 L121.89,82.75 L121.89,82.50 L121.89,82.25 L121.89,82.00 L121.89,81.75 L121.89,81.50 L121.89,81.25 L121.89,81.00 L121.89,80.75 L121.89,80.50 L121.88,80.25 L121.88,80.00 L121.88,79.75 L121.88,79.50 L121.88,79.25 L121.88,79.00 L121.88,78.75 L121.88,78.50 L121.88,78.25 L121.88,78.00 L121.87,77.75 L121.87,77.50 L121.87,77.25 L121.87,77.00 L121.87,76.75 L121.87,76.50 L121.87,76.25 L121.87,76.00 L121.87,75.75 L121.87,75.50 L121.87,75.25 L121.86,75.00 L121.86,74.75 L121.86,74.50 L121.86,74.25 L121.86,74.00 L121.86,73.75 L121.86,73.50 L121.86,73.25 L121.86,73.00 L121.86,72.75 L121.85,72.50 L121.85,72.25 L121.85,72.00 L121.85,71.75 L121.85,71.50 L121.85,71.25 L121.85,71.00 L121.85,70.75 L121.85,70.50 L121.85,70.25 L121.84,70.00 L121.84,69.75 L121.84,69.50 L121.84,69.25 L121.84,69.00 L121.84,68.75 L121.84,68.50 L121.84,68.25 L121.84,68.00 L121.83,67.75 L121.83,67.50 L121.83,67.25 L121.83,67.00 L121.83,66.75 L121.83,66.50 L121.83,66.25 L121.83,66.00 L121.83,65.75 L121.83,65.50 L121.82,65.25 L121.82,65.00 L121.82,64.75 L121.82,64.50 L121.82,64.25 L121.82,64.00 L121.82,63.75 L121.82,63.50 L121.82,63.25 L121.81,63.00 L121.81,62.75 L121.81,62.50 L121.81,62.25 L121.81,62.00 L121.81,61.75 L121.81,61.50 L121.81,61.25 L121.80,61.00 L121.80,60.75 L121.80,60.50 L121.80,60.25 L121.80,60.00 L121.80,59.75 L121.80,59.50 L121.80,59.25 L121.80,59.00 L121.79,58.75 L121.79,58.50 L121.79,58.25 L121.79,58.00 L121.79,57.75 L121.79,57.50 L121.79,57.25 L121.78,57.00 L121.78,56.75 L121.78,56.50 L121.78,56.25 L121.78,56.00 L121.78,55.75 L121.78,55.50 L121.78,55.25 L121.77,55.00 L121.77,54.75 L121.77,54.50 L121.77,54.25 L121.77,54.00 L121.77,53.75 L121.77,53.50 L121.76,53.25 L121.76,53.00 L121.76,52.75 L121.76,52.50 L121.76,52.25 L121.76,52.00 L121.75,51.75 L121.75,51.50 L121.75,51.25 L121.75,51.00 L121.75,50.75 L121.75,50.50 L121.75,50.25 L121.74,50.00 L121.74,49.75 L121.74,49.50 L121.74,49.25 L121.74,49.00 L121.74,48.75 L121.73,48.50 L121.73,48.25 L121.73,48.00 L121.73,47.75 L121.73,47.50 L121.73,47.25 L121.72,47.00 L121.72,46.75 L121.72,46.50 L121.72,46.25 L121.72,46.00 L121.71,45.75 L121.71,45.50 L121.71,45.25 L121.71,45.00 L121.71,44.75 L121.71,44.50 L121.70,44.25 L121.70,44.00 L121.70,43.75 L121.70,43.50 L121.70,43.25 L121.69,43.00 L121.69,42.75 L121.69,42.50 L121.69,42.25 L121.69,42.00 L121.69,41.75 L121.68,41.50 L121.68,41.25 L121.68,41.00 L121.68,40.75 L121.68,40.50 L121.67,40.25 L121.67,40.00 L121.67,39.75 L121.67,39.50 L121.67,39.25 L121.66,39.00 L121.66,38.75 L121.66,38.50 L121.66,38.25 L121.66,38.00 L121.65,37.75 L121.65,37.50 L121.65,37.25 L121.65,37.00 L121.65,36.75 L121.64,36.50 L121.64,36.25 L121.64,36.00 L121.64,35.75 L121.64,35.50 L121.63,35.25 L121.63,35.00 L121.63,34.75 L121.63,34.50 L121.63,34.25 L121.62,34.00 L121.62,33.75 L121.62,33.50 L121.62,33.25 L121.62,33.00 L121.61,32.75 L121.61,32.50 L121.61,32.25 L121.61,32.00 L121.60,31.75 L121.60,31.50 L121.60,31.25 L121.60,31.00 L121.60,30.75 L121.59,30.50 L121.59,30.25 L121.59,30.00 L121.59,29.75 L121.59,29.50 L121.58,29.25 L121.58,29.00 L121.58,28.75 L121.58,28.50 L121.57,28.25 L121.57,28.00 L121.57,27.75 L121.57,27.50 L121.57,27.25 L121.56,27.00 L121.56,26.75 L121.56,26.50 L121.56,26.25 L121.55,26.00 L121.55,25.75 L121.55,25.50 L121.55,25.25 L121.55,25.00 L121.54,24.75 L121.54,24.50 L121.54,24.25 L121.54,24.00 L121.53,23.75 L121.53,23.50 L121.53,23.25 L121.53,23.00 L121.53,22.75 L121.52,22.50 L121.52,22.25 L121.52,22.00 L121.52,21.75 L121.51,21.50 L121.51,21.25 L121.51,21.00 L121.51,20.75 L121.50,20.50 L121.50,20.25 L121.50,20.00Z" fill="#ffed6f" stroke="#666" stroke-width="1.1" stroke-linejoin="round"/>
<path d="M265.80,18.00 L265.79,18.50 L265.79,19.00 L265.78,19.50 L265.78,20.00 L265.77,20.50 L265.77,21.00 L265.76,21.50 L265.76,22.00 L265.75,22.50 L265.75,23.00 L265.74,23.50 L265.74,24.00 L265.73,24.50 L265.73,25.00 L265.72,25.50 L265.72,26.00 L265.71,26.50 L265.71,27.00 L265.70,27.50 L265.70,28.00 L265.69,28.50 L265.69,29.00 L265.68,29.50 L265.67,30.00 L265.67,30.50 L265.66,31.00 L265.66,31.50 L265.65,32.00 L265.65,32.50 L265.64,33.00 L265.64,33.50 L265.63,34.00 L265.63,34.50 L265.62,35.00 L265.62,35.50 L265.62,36.00 L265.61,36.50 L265.61,37.00 L265.60,37.50 L265.60,38.00 L265.59,38.50 L265.59,39.00 L265.58,39.50 L265.58,40.00 L265.57,40.50 L265.57,41.00 L265.56,41.50 L265.56,42.00 L265.55,42.50 L265.55,43.00 L265.54,43.50 L265.54,44.00 L265.53,44.50 L265.53,45.00 L265.52,45.50 L265.52,46.00 L265.52,46.50 L265.51,47.00 L265.51,47.50 L265.50,48.00 L265.50,48.50 L265.49,49.00 L265.49,49.50 L265.48,50.00 L265.48,50.50 L265.48,51.00 L265.47,51.50 L265.47,52.00 L265.46,52.50 L265.46,53.00 L265.45,53.50 L265.45,54.00 L265.45,54.50 L265.44,55.00 L265.44,55.50 L265.43,56.00 L265.43,56.50 L265.42,57.00 L265.42,57.50 L265.42,58.00 L265.41,58.50 L265.41,59.00 L265.40,59.50 L265.40,60.00 L265.40,60.50 L265.39,61.00 L265.39,61.50 L265.38,62.00 L265.38,62.50 L265.38,63.00 L265.37,63.50 L265.37,64.00 L265.37,64.50 L265.36,65.00 L265.36,65.50 L265.36,66.00 L265.35,66.50 L265.35,67.00 L265.35,67.50 L265.34,68.00 L265.34,68.50 L265.34,69.00 L265.33,69.50 L265.33,70.00 L265.33,70.50 L265.33,71.00 L265.32,71.50 L265.32,72.00 L265.32,72.50 L265.31,73.00 L265.31,73.50 L265.31,74.00 L265.31,74.50 L265.30,75.00 L265.30,75.50 L265.30,76.00 L265.30,76.50 L265.29,77.00 L265.29,77.50 L265.29,78.00 L265.29,78.50 L265.28,79.00 L265.28,79.50 L265.28,80.00 L265.28,80.50 L265.27,81.00 L265.27,81.50 L265.27,82.00 L265.27,82.50 L265.26,83.00 L265.26,83.50 L265.26,84.00 L265.26,84.50 L265.25,85.00 L265.25,85.50 L265.25,86.00 L265.25,86.50 L265.24,87.00 L265.24,87.50 L265.24,88.00 L265.24,88.50 L265.23,89.00 L265.23,89.50 L265.23,90.00 L265.23,90.50 L265.22,91.00 L265.22,91.50 L265.22,92.00 L265.21,92.50 L265.21,93.00 L265.21,93.50 L265.21,94.00 L265.20,94.50 L265.20,95.00 L265.20,95.50 L265.20,96.00 L265.19,96.50 L265.19,97.00 L265.19,97.50 L265.18,98.00 L265.18,98.50 L265.18,99.00 L265.17,99.50 L265.17,100.00 L265.17,100.50 L265.16,101.00 L265.16,101.50 L265.16,102.00 L265.15,102.50 L265.15,103.00 L265.15,103.50 L265.14,104.00 L265.14,104.50 L265.14,105.00 L265.13,105.50 L265.13,106.00 L265.12,106.50 L265.12,107.00 L265.12,107.50 L265.11,108.00 L265.11,108.50 L265.10,109.00 L265.10,109.50 L265.09,110.00 L265.09,110.50 L265.09,111.00 L265.08,111.50 L265.08,112.00 L265.07,112.50 L265.07,113.00 L265.06,113.50 L265.06,114.00 L265.05,114.50 L265.05,115.00 L265.04,115.50 L265.03,116.00 L265.03,116.50 L265.02,117.00 L265.02,117.50 L265.01,118.00 L265.01,118.50 L265.00,119.00 L264.99,119.50 L264.99,120.00 L264.98,120.50 L264.97,121.00 L264.96,121.50 L264.95,122.00 L264.94,122.50 L264.93,123.00 L264.92,123.50 L264.91,124.00 L264.89,124.50 L264.88,125.00 L264.87,125.50 L264.85,126.00 L264.84,126.50 L264.82,127.00 L264.81,127.50 L264.79,128.00 L264.78,128.50 L264.76,129.00 L264.75,129.50 L264.73,130.00 L264.71,130.50 L264.70,131.00 L264.68,131.50 L264.66,132.00 L264.64,132.50 L264.63,133.00 L264.61,133.50 L264.59,134.00 L264.58,134.50 L264.56,135.00 L264.54,135.50 L264.53,136.00 L264.51,136.50 L264.49,137.00 L264.48,137.50 L264.46,138.00 L264.45,138.50 L264.43,139.00 L264.41,139.50 L264.40,140.00 L264.39,140.50 L264.37,141.00 L264.36,141.50 L264.34,142.00 L264.33,142.50 L264.32,143.00 L264.30,143.50 L264.29,144.00 L264.28,144.50 L264.26,145.00 L264.25,145.50 L264.24,146.00 L264.22,146.50 L264.21,147.00 L264.20,147.50 L264.18,148.00 L264.17,148.50 L264.16,149.00 L264.15,149.50 L264.13,150.00 L264.12,150.50 L264.11,151.00 L264.10,151.50 L264.08,152.00 L264.07,152.50 L264.06,153.00 L264.05,153.50 L264.03,154.00 L264.02,154.50 L264.01,155.00 L263.99,155.50 L263.98,156.00 L263.97,156.50 L263.96,157.00 L263.94,157.50 L263.93,158.00 L263.91,158.50 L263.90,159.00 L263.89,159.50 L263.87,160.00 L263.86,160.50 L263.84,161.00 L263.83,161.50 L263.81,162.00 L263.80,162.50 L263.78,163.00 L263.77,163.50 L263.75,164.00 L263.73,164.50 L263.72,165.00 L263.70,165.50 L263.68,166.00 L263.66,166.50 L263.65,167.00 L263.63,167.50 L263.61,168.00 L263.59,168.50 L263.57,169.00 L263.55,169.50 L263.53,170.00 L263.51,170.50 L263.49,171.00 L263.47,171.50 L263.45,172.00 L263.42,172.50 L263.40,173.00 L263.38,173.50 L263.35,174.00 L263.33,174.50 L263.30,175.00 L263.27,175.50 L263.24,176.00 L263.21,176.50 L263.18,177.00 L263.15,177.50 L263.12,178.00 L263.08,178.50 L263.05,179.00 L263.01,179.50 L262.97,180.00 L262.94,180.50 L262.90,181.00 L262.86,181.50 L262.82,182.00 L262.78,182.50 L262.73,183.00 L262.69,183.50 L262.65,184.00 L262.60,184.50 L262.56,185.00 L262.51,185.50 L262.46,186.00 L262.41,186.50 L262.37,187.00 L262.32,187.50 L262.27,188.00 L262.21,188.50 L262.16,189.00 L262.11,189.50 L262.06,190.00 L262.00,190.50 L261.94,191.00 L261.89,191.50 L261.83,192.00 L261.76,192.50 L261.70,193.00 L261.63,193.50 L261.56,194.00 L261.49,194.50 L261.42,195.00 L261.35,195.50 L261.28,196.00 L261.20,196.50 L261.12,197.00 L261.04,197.50 L260.96,198.00 L260.88,198.50 L260.79,199.00 L260.71,199.50 L260.62,200.00 L260.53,200.50 L260.44,201.00 L260.34,201.50 L260.25,202.00 L260.15,202.50 L260.06,203.00 L259.96,203.50 L259.86,204.00 L259.76,204.50 L259.65,205.00 L259.55,205.50 L259.44,206.00 L259.33,206.50 L259.22,207.00 L259.11,207.50 L258.99,208.00 L258.87,208.50 L258.74,209.00 L258.61,209.50 L258.48,210.00 L258.34,210.50 L258.21,211.00 L258.06,211.50 L257.92,212.00 L257.77,212.50 L257.62,213.00 L257.47,213.50 L257.31,214.00 L257.15,214.50 L256.99,215.00 L256.82,215.50 L256.66,216.00 L256.49,216.50 L256.31,217.00 L256.14,217.50 L255.96,218.00 L255.78,218.50 L255.60,219.00 L255.42,219.50 L255.23,220.00 L255.05,220.50 L254.86,221.00 L254.67,221.50 L254.47,222.00 L254.28,222.50 L254.08,223.00 L253.88,223.50 L253.68,224.00 L253.48,224.50 L253.27,225.00 L253.06,225.50 L252.84,226.00 L252.62,226.50 L252.39,227.00 L252.16,227.50 L251.92,228.00 L251.68,228.50 L251.42,229.00 L251.16,229.50 L250.89,230.00 L250.61,230.50 L250.32,231.00 L250.02,231.50 L249.72,232.00 L249.40,232.50 L249.06,233.00 L248.70,233.50 L248.32,234.00 L247.90,234.50 L247.46,235.00 L247.00,235.50 L246.52,236.00 L246.03,236.50 L245.52,237.00 L245.00,237.50 L244.47,238.00 L243.94,238.50 L243.40,239.00 L242.86,239.50 L242.33,240.00 L241.80,240.50 L241.28,241.00 L240.76,241.50 L240.25,242.00 L239.73,242.50 L239.21,243.00 L238.68,243.50 L238.15,244.00 L237.60,244.50 L237.03,245.00 L236.44,245.50 L235.83,246.00 L235.20,246.50 L234.53,247.00 L233.83,247.50 L233.10,248.00 L232.30,248.50 L231.42,249.00 L230.48,249.50 L229.46,250.00 L228.40,250.50 L227.31,251.00 L226.18,251.50 L225.03,252.00 L223.88,252.50 L222.73,253.00 L221.60,253.50 L220.49,254.00 L219.42,254.50 L218.37,255.00 L217.28,255.50 L216.18,256.00 L215.10,256.50 L214.07,257.00 L213.12,257.50 L212.30,258.00 L211.48,258.50 L210.72,259.00 L210.31,259.50 L210.36,260.00 L210.57,260.50 L210.89,261.00 L211.30,261.50 L212.00,262.00 L213.13,262.50 L214.51,263.00 L216.11,263.50 L218.22,264.00 L220.68,264.50 L223.28,265.00 L225.80,265.50 L228.24,266.00 L230.73,266.50 L233.26,267.00 L235.79,267.50 L238.30,268.00 L240.79,268.50 L243.27,269.00 L245.76,269.50 L248.26,270.00 L250.80,270.50 L253.35,271.00 L255.91,271.50 L258.51,272.00 L261.20,272.50 L264.02,273.00 L265.80,273.30 L265.80,273.30 L267.58,273.00 L270.40,272.50 L273.09,272.00 L275.69,271.50 L278.25,271.00 L280.80,270.50 L283.34,270.00 L285.84,269.50 L288.33,269.00 L290.81,268.50 L293.30,268.00 L295.81,267.50 L298.34,267.00 L300.87,266.50 L303.36,266.00 L305.80,265.50 L308.32,265.00 L310.92,264.50 L313.38,264.00 L315.49,263.50 L317.09,263.00 L318.47,262.50 L319.60,262.00 L320.30,261.50 L320.71,261.00 L321.03,260.50 L321.24,260.00 L321.29,259.50 L320.88,259.00 L320.12,258.50 L319.30,258.00 L318.48,257.50 L317.53,257.00 L316.50,256.50 L315.42,256.00 L314.32,255.50 L313.23,255.00 L312.18,254.50 L311.11,254.00 L310.00,253.50 L308.87,253.00 L307.72,252.50 L306.57,252.00 L305.42,251.50 L304.29,251.00 L303.20,250.50 L302.14,250.00 L301.12,249.50 L300.18,249.00 L299.30,248.50 L298.50,248.00 L297.77,247.50 L297.07,247.00 L296.40,246.50 L295.77,246.00 L295.16,245.50 L294.57,245.00 L294.00,244.50 L293.45,244.00 L292.92,243.50 L292.39,243.00 L291.87,242.50 L291.35,242.00 L290.84,241.50 L290.32,241.00 L289.80,240.50 L289.27,240.00 L288.74,239.50 L288.20,239.00 L287.66,238.50 L287.13,238.00 L286.60,237.50 L286.08,237.00 L285.57,236.50 L285.08,236.00 L284.60,235.50 L284.14,235.00 L283.70,234.50 L283.28,234.00 L282.90,233.50 L282.54,233.00 L282.20,232.50 L281.88,232.00 L281.58,231.50 L281.28,231.00 L280.99,230.50 L280.71,230.00 L280.44,229.50 L280.18,229.00 L279.92,228.50 L279.68,228.00 L279.44,227.50 L279.21,227.00 L278.98,226.50 L278.76,226.00 L278.54,225.50 L278.33,225.00 L278.12,224.50 L277.92,224.00 L277.72,223.50 L277.52,223.00 L277.32,222.50 L277.13,222.00 L276.93,221.50 L276.74,221.00 L276.55,220.50 L276.37,220.00 L276.18,219.50 L276.00,219.00 L275.82,218.50 L275.64,218.00 L275.46,217.50 L275.29,217.00 L275.11,216.50 L274.94,216.00 L274.78,215.50 L274.61,215.00 L274.45,214.50 L274.29,214.00 L274.13,213.50 L273.98,213.00 L273.83,212.50 L273.68,212.00 L273.54,211.50 L273.39,211.00 L273.26,210.50 L273.12,210.00 L272.99,209.50 L272.86,209.00 L272.73,208.50 L272.61,208.00 L272.49,207.50 L272.38,207.00 L272.27,206.50 L272.16,206.00 L272.05,205.50 L271.95,205.00 L271.84,204.50 L271.74,204.00 L271.64,203.50 L271.54,203.00 L271.45,202.50 L271.35,202.00 L271.26,201.50 L271.16,201.00 L271.07,200.50 L270.98,200.00 L270.89,199.50 L270.81,199.00 L270.72,198.50 L270.64,198.00 L270.56,197.50 L270.48,197.00 L270.40,196.50 L270.32,196.00 L270.25,195.50 L270.18,195.00 L270.11,194.50 L270.04,194.00 L269.97,193.50 L269.90,193.00 L269.84,192.50 L269.77,192.00 L269.71,191.50 L269.66,191.00 L269.60,190.50 L269.54,190.00 L269.49,189.50 L269.44,189.00 L269.39,188.50 L269.33,188.00 L269.28,187.50 L269.23,187.00 L269.19,186.50 L269.14,186.00 L269.09,185.50 L269.04,185.00 L269.00,184.50 L268.95,184.00 L268.91,183.50 L268.87,183.00 L268.82,182.50 L268.78,182.00 L268.74,181.50 L268.70,181.00 L268.66,180.50 L268.63,180.00 L268.59,179.50 L268.55,179.00 L268.52,178.50 L268.48,178.00 L268.45,177.50 L268.42,177.00 L268.39,176.50 L268.36,176.00 L268.33,175.50 L268.30,175.00 L268.27,174.50 L268.25,174.00 L268.22,173.50 L268.20,173.00 L268.18,172.50 L268.15,172.00 L268.13,171.50 L268.11,171.00 L268.09,170.50 L268.07,170.00 L268.05,169.50 L268.03,169.00 L268.01,168.50 L267.99,168.00 L267.97,167.50 L267.95,167.00 L267.94,166.50 L267.92,166.00 L267.90,165.50 L267.88,165.00 L267.87,164.50 L267.85,164.00 L267.83,163.50 L267.82,163.00 L267.80,162.50 L267.79,162.00 L267.77,161.50 L267.76,161.00 L267.74,160.50 L267.73,160.00 L267.71,159.50 L267.70,159.00 L267.69,158.50 L267.67,158.00 L267.66,157.50 L267.64,157.00 L267.63,156.50 L267.62,156.00 L267.61,155.50 L267.59,155.00 L267.58,154.50 L267.57,154.00 L267.55,153.50 L267.54,153.00 L267.53,152.50 L267.52,152.00 L267.50,151.50 L267.49,151.00 L267.48,150.50 L267.47,150.00 L267.45,149.50 L267.44,149.00 L267.43,148.50 L267.42,148.00 L267.40,147.50 L267.39,147.00 L267.38,146.50 L267.36,146.00 L267.35,145.50 L267.34,145.00 L267.32,144.50 L267.31,144.00 L267.30,143.50 L267.28,143.00 L267.27,142.50 L267.26,142.00 L267.24,141.50 L267.23,141.00 L267.21,140.50 L267.20,140.00 L267.19,139.50 L267.17,139.00 L267.15,138.50 L267.14,138.00 L267.12,137.50 L267.11,137.00 L267.09,136.50 L267.07,136.00 L267.06,135.50 L267.04,135.00 L267.02,134.50 L267.01,134.00 L266.99,133.50 L266.97,133.00 L266.96,132.50 L266.94,132.00 L266.92,131.50 L266.90,131.00 L266.89,130.50 L266.87,130.00 L266.85,129.50 L266.84,129.00 L266.82,128.50 L266.81,128.00 L266.79,127.50 L266.78,127.00 L266.76,126.50 L266.75,126.00 L266.73,125.50 L266.72,125.00 L266.71,124.50 L266.69,124.00 L266.68,123.50 L266.67,123.00 L266.66,122.50 L266.65,122.00 L266.64,121.50 L266.63,121.00 L266.62,120.50 L266.61,120.00 L266.61,119.50 L266.60,119.00 L266.59,118.50 L266.59,118.00 L266.58,117.50 L266.58,117.00 L266.57,116.50 L266.57,116.00 L266.56,115.50 L266.55,115.00 L266.55,114.50 L266.54,114.00 L266.54,113.50 L266.53,113.00 L266.53,112.50 L266.52,112.00 L266.52,111.50 L266.51,111.00 L266.51,110.50 L266.51,110.00 L266.50,109.50 L266.50,109.00 L266.49,108.50 L266.49,108.00 L266.48,107.50 L266.48,107.00 L266.48,106.50 L266.47,106.00 L266.47,105.50 L266.46,105.00 L266.46,104.50 L266.46,104.00 L266.45,103.50 L266.45,103.00 L266.45,102.50 L266.44,102.00 L266.44,101.50 L266.44,101.00 L266.43,100.50 L266.43,100.00 L266.43,99.50 L266.42,99.00 L266.42,98.50 L266.42,98.00 L266.41,97.50 L266.41,97.00 L266.41,96.50 L266.40,96.00 L266.40,95.50 L266.40,95.00 L266.40,94.50 L266.39,94.00 L266.39,93.50 L266.39,93.00 L266.39,92.50 L266.38,92.00 L266.38,91.50 L266.38,91.00 L266.37,90.50 L266.37,90.00 L266.37,89.50 L266.37,89.00 L266.36,88.50 L266.36,88.00 L266.36,87.50 L266.36,87.00 L266.35,86.50 L266.35,86.00 L266.35,85.50 L266.35,85.00 L266.34,84.50 L266.34,84.00 L266.34,83.50 L266.34,83.00 L266.33,82.50 L266.33,82.00 L266.33,81.50 L266.33,81.00 L266.32,80.50 L266.32,80.00 L266.32,79.50 L266.32,79.00 L266.31,78.50 L266.31,78.00 L266.31,77.50 L266.31,77.00 L266.30,76.50 L266.30,76.00 L266.30,75.50 L266.30,75.00 L266.29,74.50 L266.29,74.00 L266.29,73.50 L266.29,73.00 L266.28,72.50 L266.28,72.00 L266.28,71.50 L266.27,71.00 L266.27,70.50 L266.27,70.00 L266.27,69.50 L266.26,69.00 L266.26,68.50 L266.26,68.00 L266.25,67.50 L266.25,67.00 L266.25,66.50 L266.24,66.00 L266.24,65.50 L266.24,65.00 L266.23,64.50 L266.23,64.00 L266.23,63.50 L266.22,63.00 L266.22,62.50 L266.22,62.00 L266.21,61.50 L266.21,61.00 L266.20,60.50 L266.20,60.00 L266.20,59.50 L266.19,59.00 L266.19,58.50 L266.18,58.00 L266.18,57.50 L266.18,57.00 L266.17,56.50 L266.17,56.00 L266.16,55.50 L266.16,55.00 L266.15,54.50 L266.15,54.00 L266.15,53.50 L266.14,53.00 L266.14,52.50 L266.13,52.00 L266.13,51.50 L266.12,51.00 L266.12,50.50 L266.12,50.00 L266.11,49.50 L266.11,49.00 L266.10,48.50 L266.10,48.00 L266.09,47.50 L266.09,47.00 L266.08,46.50 L266.08,46.00 L266.08,45.50 L266.07,45.00 L266.07,44.50 L266.06,44.00 L266.06,43.50 L266.05,43.00 L266.05,42.50 L266.04,42.00 L266.04,41.50 L266.03,41.00 L266.03,40.50 L266.02,40.00 L266.02,39.50 L266.01,39.00 L266.01,38.50 L266.00,38.00 L266.00,37.50 L265.99,37.00 L265.99,36.50 L265.98,36.00 L265.98,35.50 L265.98,35.00 L265.97,34.50 L265.97,34.00 L265.96,33.50 L265.96,33.00 L265.95,32.50 L265.95,32.00 L265.94,31.50 L265.94,31.00 L265.93,30.50 L265.93,30.00 L265.92,29.50 L265.91,29.00 L265.91,28.50 L265.90,28.00 L265.90,27.50 L265.89,27.00 L265.89,26.50 L265.88,26.00 L265.88,25.50 L265.87,25.00 L265.87,24.50 L265.86,24.00 L265.86,23.50 L265.85,23.00 L265.85,22.50 L265.84,22.00 L265.84,21.50 L265.83,21.00 L265.83,20.50 L265.82,20.00 L265.82,19.50 L265.81,19.00 L265.81,18.50 L265.80,18.00Z" fill="#8dd3c7" stroke="#666" stroke-width="1.1" stroke-linejoin="round"/>
<line x1="103.57" y1="243.2" x2="139.43" y2="243.2" stroke="#777" stroke-width="1.3" stroke-dasharray="2,2.45"/>
<line x1="70.84" y1="258.2" x2="172.16" y2="258.2" stroke="#777" stroke-width="1.3" stroke-dasharray="4.4,4.5"/>
<line x1="65.30" y1="263.2" x2="177.70" y2="263.2" stroke="#777" stroke-width="1.3" stroke-dasharray="2,2.45"/>
<line x1="250.20" y1="232.8" x2="281.40" y2="232.8" stroke="#777" stroke-width="1.3" stroke-dasharray="2,2.45"/>
<line x1="234.10" y1="248.0" x2="297.50" y2="248.0" stroke="#777" stroke-width="1.3" stroke-dasharray="4.4,4.5"/>
<line x1="213.17" y1="258.1" x2="318.43" y2="258.1" stroke="#777" stroke-width="1.3" stroke-dasharray="2,2.45"/>
<text transform="translate(43.50,30.80) scale(1.1,1)" text-anchor="end" font-size="16" fill="#222" font-family="Liberation Sans, sans-serif">50</text>
<text transform="translate(43.50,80.80) scale(1.1,1)" text-anchor="end" font-size="16" fill="#222" font-family="Liberation Sans, sans-serif">40</text>
<text transform="translate(43.50,130.80) scale(1.1,1)" text-anchor="end" font-size="16" fill="#222" font-family="Liberation Sans, sans-serif">30</text>
<text transform="translate(43.50,180.90) scale(1.1,1)" text-anchor="end" font-size="16" fill="#222" font-family="Liberation Sans, sans-serif">20</text>
<text transform="translate(43.50,230.80) scale(1.1,1)" text-anchor="end" font-size="16" fill="#222" font-family="Liberation Sans, sans-serif">10</text>
<text transform="translate(43.50,280.80) scale(1.1,1)" text-anchor="end" font-size="16" fill="#222" font-family="Liberation Sans, sans-serif">0</text>
<text transform="translate(122.00,303.00) scale(1.1,1)" text-anchor="middle" font-size="16" fill="#222" font-family="Liberation Sans, sans-serif">F</text>
<text transform="translate(266.00,303.00) scale(1.1,1)" text-anchor="middle" font-size="16" fill="#222" font-family="Liberation Sans, sans-serif">M</text>
<text transform="translate(193.00,322.60) scale(1.1,1)" text-anchor="middle" letter-spacing="0.8" font-size="16" fill="#222" font-family="Liberation Sans, sans-serif">gender</text>
<text transform="translate(63.60,33.60) scale(1.0,1)" font-size="23.5" fill="#222" font-family="Liberation Sans, sans-serif">A</text>
<g transform="translate(16.8,146) rotate(-90)"><text x="0" y="0" text-anchor="middle" font-size="16.5" fill="#222" font-family="Liberation Sans, sans-serif"><tspan font-style="italic">P</tspan>(<tspan font-style="italic">N</tspan><tspan font-style="italic" font-size="11" dy="3">l</tspan><tspan dy="-3">)</tspan></text><path d="M-0.9,-14.1 L5,-16.6 L11,-14.1" fill="none" stroke="#333" stroke-width="0.9"/></g>
<rect x="155.5" y="22.5" width="81" height="131" fill="white" stroke="#444" stroke-width="1"/>
<line x1="175.8" y1="144.97" x2="175.8" y2="53.34" stroke="#666" stroke-width="1"/>
<line x1="167.5" y1="53.34" x2="184" y2="53.34" stroke="#666" stroke-width="1"/>
<line x1="167.5" y1="144.97" x2="184" y2="144.97" stroke="#666" stroke-width="1"/>
<rect x="159.5" y="103.32000000000001" width="32.7" height="33.32000000000001" fill="#ffed6f" stroke="#666" stroke-width="1"/>
<line x1="159.5" y1="128.31" x2="192.2" y2="128.31" stroke="#666" stroke-width="1"/>
<line x1="216.6" y1="144.97" x2="216.6" y2="28.35000000000001" stroke="#666" stroke-width="1"/>
<line x1="208.3" y1="28.35000000000001" x2="225" y2="28.35000000000001" stroke="#666" stroke-width="1"/>
<line x1="208.3" y1="144.97" x2="225" y2="144.97" stroke="#666" stroke-width="1"/>
<rect x="200.6" y="86.66000000000001" width="32" height="41.64999999999999" fill="#8dd3c7" stroke="#666" stroke-width="1"/>
<line x1="200.6" y1="111.65" x2="232.6" y2="111.65" stroke="#666" stroke-width="1"/>
<text transform="translate(154.00,156.80) scale(0.9,1)" text-anchor="end" font-size="8.5" fill="#111" font-family="Liberation Sans, sans-serif" stroke="#111" stroke-width="0.2">0</text>
<text transform="translate(154.00,115.15) scale(0.9,1)" text-anchor="end" font-size="8.5" fill="#111" font-family="Liberation Sans, sans-serif" stroke="#111" stroke-width="0.2">5</text>
<text transform="translate(154.00,73.50) scale(0.9,1)" text-anchor="end" font-size="8.5" fill="#111" font-family="Liberation Sans, sans-serif" stroke="#111" stroke-width="0.2">10</text>
<text transform="translate(154.00,31.85) scale(0.9,1)" text-anchor="end" font-size="8.5" fill="#111" font-family="Liberation Sans, sans-serif" stroke="#111" stroke-width="0.2">15</text>
<text transform="translate(175.50,162.50) scale(0.9,1)" text-anchor="middle" font-size="8.5" fill="#111" font-family="Liberation Sans, sans-serif" stroke="#111" stroke-width="0.2">F</text>
<text transform="translate(216.40,162.50) scale(0.9,1)" text-anchor="middle" font-size="8.5" fill="#111" font-family="Liberation Sans, sans-serif" stroke="#111" stroke-width="0.2">M</text>
<text transform="translate(196.00,170.80) scale(0.9,1)" text-anchor="middle" font-size="8.5" fill="#111" font-family="Liberation Sans, sans-serif" stroke="#111" stroke-width="0.2">gender</text>
<g transform="translate(143.6,89.4) rotate(-90) scale(0.85,1)"><text x="0" y="0" text-anchor="middle" font-size="9.6" fill="#111" stroke="#111" stroke-width="0.2" font-family="Liberation Sans, sans-serif"><tspan font-style="italic">P</tspan>(<tspan font-style="italic">N</tspan><tspan font-style="italic" font-size="6" dy="1.5">l</tspan><tspan dy="-1.5">)</tspan></text><path d="M-0.5,-7.6 L2.7,-8.8 L6,-7.6" fill="none" stroke="#333" stroke-width="0.6"/></g>
<rect x="49.5" y="342.5" width="288.5" height="281" fill="none" stroke="#333" stroke-width="1"/>
<path d="M121.40,355.80 L121.40,356.30 L121.39,356.80 L121.39,357.30 L121.39,357.80 L121.38,358.30 L121.38,358.80 L121.38,359.30 L121.37,359.80 L121.37,360.30 L121.36,360.80 L121.36,361.30 L121.35,361.80 L121.34,362.30 L121.34,362.80 L121.33,363.30 L121.32,363.80 L121.32,364.30 L121.31,364.80 L121.30,365.30 L121.29,365.80 L121.29,366.30 L121.28,366.80 L121.27,367.30 L121.26,367.80 L121.25,368.30 L121.25,368.80 L121.24,369.30 L121.23,369.80 L121.22,370.30 L121.21,370.80 L121.20,371.30 L121.19,371.80 L121.18,372.30 L121.17,372.80 L121.16,373.30 L121.15,373.80 L121.14,374.30 L121.13,374.80 L121.12,375.30 L121.11,375.80 L121.10,376.30 L121.09,376.80 L121.08,377.30 L121.07,377.80 L121.06,378.30 L121.04,378.80 L121.03,379.30 L121.02,379.80 L121.00,380.30 L120.99,380.80 L120.97,381.30 L120.96,381.80 L120.95,382.30 L120.93,382.80 L120.91,383.30 L120.90,383.80 L120.88,384.30 L120.87,384.80 L120.85,385.30 L120.83,385.80 L120.81,386.30 L120.80,386.80 L120.78,387.30 L120.76,387.80 L120.74,388.30 L120.72,388.80 L120.70,389.30 L120.68,389.80 L120.66,390.30 L120.64,390.80 L120.62,391.30 L120.59,391.80 L120.57,392.30 L120.55,392.80 L120.53,393.30 L120.50,393.80 L120.48,394.30 L120.46,394.80 L120.43,395.30 L120.41,395.80 L120.38,396.30 L120.35,396.80 L120.32,397.30 L120.30,397.80 L120.27,398.30 L120.24,398.80 L120.20,399.30 L120.17,399.80 L120.14,400.30 L120.11,400.80 L120.07,401.30 L120.03,401.80 L120.00,402.30 L119.96,402.80 L119.92,403.30 L119.88,403.80 L119.84,404.30 L119.80,404.80 L119.76,405.30 L119.71,405.80 L119.67,406.30 L119.62,406.80 L119.58,407.30 L119.53,407.80 L119.48,408.30 L119.43,408.80 L119.38,409.30 L119.33,409.80 L119.27,410.30 L119.22,410.80 L119.16,411.30 L119.10,411.80 L119.05,412.30 L118.99,412.80 L118.92,413.30 L118.86,413.80 L118.80,414.30 L118.72,414.80 L118.65,415.30 L118.57,415.80 L118.49,416.30 L118.40,416.80 L118.31,417.30 L118.21,417.80 L118.11,418.30 L118.01,418.80 L117.90,419.30 L117.79,419.80 L117.68,420.30 L117.56,420.80 L117.44,421.30 L117.32,421.80 L117.19,422.30 L117.06,422.80 L116.93,423.30 L116.79,423.80 L116.65,424.30 L116.51,424.80 L116.37,425.30 L116.22,425.80 L116.07,426.30 L115.92,426.80 L115.76,427.30 L115.60,427.80 L115.44,428.30 L115.28,428.80 L115.12,429.30 L114.95,429.80 L114.78,430.30 L114.61,430.80 L114.44,431.30 L114.26,431.80 L114.09,432.30 L113.91,432.80 L113.73,433.30 L113.54,433.80 L113.34,434.30 L113.13,434.80 L112.91,435.30 L112.68,435.80 L112.45,436.30 L112.20,436.80 L111.95,437.30 L111.69,437.80 L111.43,438.30 L111.16,438.80 L110.88,439.30 L110.59,439.80 L110.30,440.30 L110.01,440.80 L109.71,441.30 L109.41,441.80 L109.10,442.30 L108.79,442.80 L108.48,443.30 L108.17,443.80 L107.85,444.30 L107.53,444.80 L107.21,445.30 L106.89,445.80 L106.57,446.30 L106.25,446.80 L105.93,447.30 L105.61,447.80 L105.29,448.30 L104.98,448.80 L104.66,449.30 L104.35,449.80 L104.03,450.30 L103.70,450.80 L103.37,451.30 L103.04,451.80 L102.70,452.30 L102.36,452.80 L102.02,453.30 L101.67,453.80 L101.32,454.30 L100.97,454.80 L100.62,455.30 L100.26,455.80 L99.90,456.30 L99.55,456.80 L99.19,457.30 L98.83,457.80 L98.47,458.30 L98.11,458.80 L97.75,459.30 L97.38,459.80 L97.02,460.30 L96.65,460.80 L96.28,461.30 L95.90,461.80 L95.52,462.30 L95.14,462.80 L94.75,463.30 L94.36,463.80 L93.97,464.30 L93.56,464.80 L93.15,465.30 L92.73,465.80 L92.31,466.30 L91.87,466.80 L91.43,467.30 L90.99,467.80 L90.54,468.30 L90.08,468.80 L89.63,469.30 L89.17,469.80 L88.71,470.30 L88.26,470.80 L87.80,471.30 L87.35,471.80 L86.90,472.30 L86.45,472.80 L86.00,473.30 L85.55,473.80 L85.10,474.30 L84.65,474.80 L84.19,475.30 L83.73,475.80 L83.28,476.30 L82.82,476.80 L82.36,477.30 L81.90,477.80 L81.45,478.30 L80.99,478.80 L80.53,479.30 L80.08,479.80 L79.62,480.30 L79.17,480.80 L78.72,481.30 L78.28,481.80 L77.83,482.30 L77.39,482.80 L76.95,483.30 L76.51,483.80 L76.08,484.30 L75.65,484.80 L75.22,485.30 L74.80,485.80 L74.38,486.30 L73.96,486.80 L73.54,487.30 L73.10,487.80 L72.65,488.30 L72.20,488.80 L71.75,489.30 L71.29,489.80 L70.84,490.30 L70.40,490.80 L69.96,491.30 L69.53,491.80 L69.11,492.30 L68.71,492.80 L68.32,493.30 L67.95,493.80 L67.60,494.30 L67.28,494.80 L66.98,495.30 L66.71,495.80 L66.47,496.30 L66.26,496.80 L66.06,497.30 L65.87,497.80 L65.67,498.30 L65.48,498.80 L65.30,499.30 L65.11,499.80 L64.94,500.30 L64.77,500.80 L64.61,501.30 L64.46,501.80 L64.32,502.30 L64.19,502.80 L64.07,503.30 L63.97,503.80 L63.88,504.30 L63.81,504.80 L63.76,505.30 L63.72,505.80 L63.70,506.30 L63.70,506.80 L63.71,507.30 L63.73,507.80 L63.75,508.30 L63.78,508.80 L63.82,509.30 L63.86,509.80 L63.90,510.30 L63.95,510.80 L64.00,511.30 L64.06,511.80 L64.12,512.30 L64.18,512.80 L64.24,513.30 L64.32,513.80 L64.41,514.30 L64.52,514.80 L64.64,515.30 L64.77,515.80 L64.91,516.30 L65.06,516.80 L65.22,517.30 L65.38,517.80 L65.55,518.30 L65.72,518.80 L65.90,519.30 L66.09,519.80 L66.29,520.30 L66.51,520.80 L66.74,521.30 L66.99,521.80 L67.24,522.30 L67.51,522.80 L67.79,523.30 L68.08,523.80 L68.37,524.30 L68.67,524.80 L68.97,525.30 L69.27,525.80 L69.58,526.30 L69.89,526.80 L70.19,527.30 L70.50,527.80 L70.80,528.30 L71.10,528.80 L71.41,529.30 L71.73,529.80 L72.04,530.30 L72.37,530.80 L72.70,531.30 L73.03,531.80 L73.36,532.30 L73.70,532.80 L74.04,533.30 L74.39,533.80 L74.73,534.30 L75.07,534.80 L75.42,535.30 L75.76,535.80 L76.11,536.30 L76.45,536.80 L76.79,537.30 L77.13,537.80 L77.47,538.30 L77.80,538.80 L78.13,539.30 L78.46,539.80 L78.79,540.30 L79.11,540.80 L79.44,541.30 L79.76,541.80 L80.09,542.30 L80.41,542.80 L80.73,543.30 L81.05,543.80 L81.37,544.30 L81.69,544.80 L82.01,545.30 L82.33,545.80 L82.66,546.30 L82.98,546.80 L83.31,547.30 L83.63,547.80 L83.96,548.30 L84.29,548.80 L84.62,549.30 L84.95,549.80 L85.29,550.30 L85.63,550.80 L85.97,551.30 L86.31,551.80 L86.66,552.30 L87.01,552.80 L87.37,553.30 L87.72,553.80 L88.09,554.30 L88.45,554.80 L88.83,555.30 L89.20,555.80 L89.60,556.30 L90.00,556.80 L90.42,557.30 L90.85,557.80 L91.29,558.30 L91.74,558.80 L92.19,559.30 L92.65,559.80 L93.12,560.30 L93.59,560.80 L94.06,561.30 L94.53,561.80 L95.01,562.30 L95.48,562.80 L95.96,563.30 L96.43,563.80 L96.89,564.30 L97.36,564.80 L97.81,565.30 L98.26,565.80 L98.70,566.30 L99.13,566.80 L99.55,567.30 L99.96,567.80 L100.36,568.30 L100.74,568.80 L101.10,569.30 L101.46,569.80 L101.79,570.30 L102.10,570.80 L102.40,571.30 L102.68,571.80 L102.95,572.30 L103.21,572.80 L103.46,573.30 L103.70,573.80 L103.93,574.30 L104.16,574.80 L104.38,575.30 L104.59,575.80 L104.80,576.30 L105.00,576.80 L105.20,577.30 L105.40,577.80 L105.59,578.30 L105.78,578.80 L105.97,579.30 L106.16,579.80 L106.34,580.30 L106.53,580.80 L106.72,581.30 L106.91,581.80 L107.10,582.30 L107.30,582.80 L107.50,583.30 L107.70,583.80 L107.91,584.30 L108.13,584.80 L108.35,585.30 L108.57,585.80 L108.81,586.30 L109.05,586.80 L109.30,587.30 L109.56,587.80 L109.84,588.30 L110.12,588.80 L110.41,589.30 L110.71,589.80 L111.02,590.30 L111.33,590.80 L111.65,591.30 L111.97,591.80 L112.30,592.30 L112.63,592.80 L112.96,593.30 L113.29,593.80 L113.62,594.30 L113.95,594.80 L114.27,595.30 L114.59,595.80 L114.91,596.30 L115.23,596.80 L115.54,597.30 L115.84,597.80 L116.13,598.30 L116.41,598.80 L116.69,599.30 L116.95,599.80 L117.21,600.30 L117.45,600.80 L117.68,601.30 L117.91,601.80 L118.14,602.30 L118.36,602.80 L118.58,603.30 L118.80,603.80 L119.01,604.30 L119.22,604.80 L119.43,605.30 L119.63,605.80 L119.83,606.30 L120.02,606.80 L120.21,607.30 L120.39,607.80 L120.57,608.30 L120.75,608.80 L120.92,609.30 L121.08,609.80 L121.24,610.30 L121.40,610.80 L121.40,610.80 L121.56,610.30 L121.72,609.80 L121.88,609.30 L122.05,608.80 L122.23,608.30 L122.41,607.80 L122.59,607.30 L122.78,606.80 L122.97,606.30 L123.17,605.80 L123.37,605.30 L123.58,604.80 L123.79,604.30 L124.00,603.80 L124.22,603.30 L124.44,602.80 L124.66,602.30 L124.89,601.80 L125.12,601.30 L125.35,600.80 L125.59,600.30 L125.85,599.80 L126.11,599.30 L126.39,598.80 L126.67,598.30 L126.96,597.80 L127.26,597.30 L127.57,596.80 L127.89,596.30 L128.21,595.80 L128.53,595.30 L128.85,594.80 L129.18,594.30 L129.51,593.80 L129.84,593.30 L130.17,592.80 L130.50,592.30 L130.83,591.80 L131.15,591.30 L131.47,590.80 L131.78,590.30 L132.09,589.80 L132.39,589.30 L132.68,588.80 L132.96,588.30 L133.24,587.80 L133.50,587.30 L133.75,586.80 L133.99,586.30 L134.23,585.80 L134.45,585.30 L134.67,584.80 L134.89,584.30 L135.10,583.80 L135.30,583.30 L135.50,582.80 L135.70,582.30 L135.89,581.80 L136.08,581.30 L136.27,580.80 L136.46,580.30 L136.64,579.80 L136.83,579.30 L137.02,578.80 L137.21,578.30 L137.40,577.80 L137.60,577.30 L137.80,576.80 L138.00,576.30 L138.21,575.80 L138.42,575.30 L138.64,574.80 L138.87,574.30 L139.10,573.80 L139.34,573.30 L139.59,572.80 L139.85,572.30 L140.12,571.80 L140.40,571.30 L140.70,570.80 L141.01,570.30 L141.34,569.80 L141.70,569.30 L142.06,568.80 L142.44,568.30 L142.84,567.80 L143.25,567.30 L143.67,566.80 L144.10,566.30 L144.54,565.80 L144.99,565.30 L145.44,564.80 L145.91,564.30 L146.37,563.80 L146.84,563.30 L147.32,562.80 L147.79,562.30 L148.27,561.80 L148.74,561.30 L149.21,560.80 L149.68,560.30 L150.15,559.80 L150.61,559.30 L151.06,558.80 L151.51,558.30 L151.95,557.80 L152.38,557.30 L152.80,556.80 L153.20,556.30 L153.60,555.80 L153.97,555.30 L154.35,554.80 L154.71,554.30 L155.08,553.80 L155.43,553.30 L155.79,552.80 L156.14,552.30 L156.49,551.80 L156.83,551.30 L157.17,550.80 L157.51,550.30 L157.85,549.80 L158.18,549.30 L158.51,548.80 L158.84,548.30 L159.17,547.80 L159.49,547.30 L159.82,546.80 L160.14,546.30 L160.47,545.80 L160.79,545.30 L161.11,544.80 L161.43,544.30 L161.75,543.80 L162.07,543.30 L162.39,542.80 L162.71,542.30 L163.04,541.80 L163.36,541.30 L163.69,540.80 L164.01,540.30 L164.34,539.80 L164.67,539.30 L165.00,538.80 L165.33,538.30 L165.67,537.80 L166.01,537.30 L166.35,536.80 L166.69,536.30 L167.04,535.80 L167.38,535.30 L167.73,534.80 L168.07,534.30 L168.41,533.80 L168.76,533.30 L169.10,532.80 L169.44,532.30 L169.77,531.80 L170.10,531.30 L170.43,530.80 L170.76,530.30 L171.07,529.80 L171.39,529.30 L171.70,528.80 L172.00,528.30 L172.30,527.80 L172.61,527.30 L172.91,526.80 L173.22,526.30 L173.53,525.80 L173.83,525.30 L174.13,524.80 L174.43,524.30 L174.72,523.80 L175.01,523.30 L175.29,522.80 L175.56,522.30 L175.81,521.80 L176.06,521.30 L176.29,520.80 L176.51,520.30 L176.71,519.80 L176.90,519.30 L177.08,518.80 L177.25,518.30 L177.42,517.80 L177.58,517.30 L177.74,516.80 L177.89,516.30 L178.03,515.80 L178.16,515.30 L178.28,514.80 L178.39,514.30 L178.48,513.80 L178.56,513.30 L178.62,512.80 L178.68,512.30 L178.74,511.80 L178.80,511.30 L178.85,510.80 L178.90,510.30 L178.94,509.80 L178.98,509.30 L179.02,508.80 L179.05,508.30 L179.07,507.80 L179.09,507.30 L179.10,506.80 L179.10,506.30 L179.08,505.80 L179.04,505.30 L178.99,504.80 L178.92,504.30 L178.83,503.80 L178.73,503.30 L178.61,502.80 L178.48,502.30 L178.34,501.80 L178.19,501.30 L178.03,500.80 L177.86,500.30 L177.69,499.80 L177.50,499.30 L177.32,498.80 L177.13,498.30 L176.93,497.80 L176.74,497.30 L176.54,496.80 L176.33,496.30 L176.09,495.80 L175.82,495.30 L175.52,494.80 L175.20,494.30 L174.85,493.80 L174.48,493.30 L174.09,492.80 L173.69,492.30 L173.27,491.80 L172.84,491.30 L172.40,490.80 L171.96,490.30 L171.51,489.80 L171.05,489.30 L170.60,488.80 L170.15,488.30 L169.70,487.80 L169.26,487.30 L168.84,486.80 L168.42,486.30 L168.00,485.80 L167.58,485.30 L167.15,484.80 L166.72,484.30 L166.29,483.80 L165.85,483.30 L165.41,482.80 L164.97,482.30 L164.52,481.80 L164.08,481.30 L163.63,480.80 L163.18,480.30 L162.72,479.80 L162.27,479.30 L161.81,478.80 L161.35,478.30 L160.90,477.80 L160.44,477.30 L159.98,476.80 L159.52,476.30 L159.07,475.80 L158.61,475.30 L158.15,474.80 L157.70,474.30 L157.25,473.80 L156.80,473.30 L156.35,472.80 L155.90,472.30 L155.45,471.80 L155.00,471.30 L154.54,470.80 L154.09,470.30 L153.63,469.80 L153.17,469.30 L152.72,468.80 L152.26,468.30 L151.81,467.80 L151.37,467.30 L150.93,466.80 L150.49,466.30 L150.07,465.80 L149.65,465.30 L149.24,464.80 L148.83,464.30 L148.44,463.80 L148.05,463.30 L147.66,462.80 L147.28,462.30 L146.90,461.80 L146.52,461.30 L146.15,460.80 L145.78,460.30 L145.42,459.80 L145.05,459.30 L144.69,458.80 L144.33,458.30 L143.97,457.80 L143.61,457.30 L143.25,456.80 L142.90,456.30 L142.54,455.80 L142.18,455.30 L141.83,454.80 L141.48,454.30 L141.13,453.80 L140.78,453.30 L140.44,452.80 L140.10,452.30 L139.76,451.80 L139.43,451.30 L139.10,450.80 L138.77,450.30 L138.45,449.80 L138.14,449.30 L137.82,448.80 L137.51,448.30 L137.19,447.80 L136.87,447.30 L136.55,446.80 L136.23,446.30 L135.91,445.80 L135.59,445.30 L135.27,444.80 L134.95,444.30 L134.63,443.80 L134.32,443.30 L134.01,442.80 L133.70,442.30 L133.39,441.80 L133.09,441.30 L132.79,440.80 L132.50,440.30 L132.21,439.80 L131.92,439.30 L131.64,438.80 L131.37,438.30 L131.11,437.80 L130.85,437.30 L130.60,436.80 L130.35,436.30 L130.12,435.80 L129.89,435.30 L129.67,434.80 L129.46,434.30 L129.26,433.80 L129.07,433.30 L128.89,432.80 L128.71,432.30 L128.54,431.80 L128.36,431.30 L128.19,430.80 L128.02,430.30 L127.85,429.80 L127.68,429.30 L127.52,428.80 L127.36,428.30 L127.20,427.80 L127.04,427.30 L126.88,426.80 L126.73,426.30 L126.58,425.80 L126.43,425.30 L126.29,424.80 L126.15,424.30 L126.01,423.80 L125.87,423.30 L125.74,422.80 L125.61,422.30 L125.48,421.80 L125.36,421.30 L125.24,420.80 L125.12,420.30 L125.01,419.80 L124.90,419.30 L124.79,418.80 L124.69,418.30 L124.59,417.80 L124.49,417.30 L124.40,416.80 L124.31,416.30 L124.23,415.80 L124.15,415.30 L124.08,414.80 L124.00,414.30 L123.94,413.80 L123.88,413.30 L123.81,412.80 L123.75,412.30 L123.70,411.80 L123.64,411.30 L123.58,410.80 L123.53,410.30 L123.47,409.80 L123.42,409.30 L123.37,408.80 L123.32,408.30 L123.27,407.80 L123.22,407.30 L123.18,406.80 L123.13,406.30 L123.09,405.80 L123.04,405.30 L123.00,404.80 L122.96,404.30 L122.92,403.80 L122.88,403.30 L122.84,402.80 L122.80,402.30 L122.77,401.80 L122.73,401.30 L122.69,400.80 L122.66,400.30 L122.63,399.80 L122.60,399.30 L122.56,398.80 L122.53,398.30 L122.50,397.80 L122.48,397.30 L122.45,396.80 L122.42,396.30 L122.39,395.80 L122.37,395.30 L122.34,394.80 L122.32,394.30 L122.30,393.80 L122.27,393.30 L122.25,392.80 L122.23,392.30 L122.21,391.80 L122.18,391.30 L122.16,390.80 L122.14,390.30 L122.12,389.80 L122.10,389.30 L122.08,388.80 L122.06,388.30 L122.04,387.80 L122.02,387.30 L122.00,386.80 L121.99,386.30 L121.97,385.80 L121.95,385.30 L121.93,384.80 L121.92,384.30 L121.90,383.80 L121.89,383.30 L121.87,382.80 L121.85,382.30 L121.84,381.80 L121.83,381.30 L121.81,380.80 L121.80,380.30 L121.78,379.80 L121.77,379.30 L121.76,378.80 L121.74,378.30 L121.73,377.80 L121.72,377.30 L121.71,376.80 L121.70,376.30 L121.69,375.80 L121.68,375.30 L121.67,374.80 L121.66,374.30 L121.65,373.80 L121.64,373.30 L121.63,372.80 L121.62,372.30 L121.61,371.80 L121.60,371.30 L121.59,370.80 L121.58,370.30 L121.57,369.80 L121.56,369.30 L121.55,368.80 L121.55,368.30 L121.54,367.80 L121.53,367.30 L121.52,366.80 L121.51,366.30 L121.51,365.80 L121.50,365.30 L121.49,364.80 L121.48,364.30 L121.48,363.80 L121.47,363.30 L121.46,362.80 L121.46,362.30 L121.45,361.80 L121.44,361.30 L121.44,360.80 L121.43,360.30 L121.43,359.80 L121.42,359.30 L121.42,358.80 L121.42,358.30 L121.41,357.80 L121.41,357.30 L121.41,356.80 L121.40,356.30 L121.40,355.80Z" fill="#ffed6f" stroke="#666" stroke-width="1.1" stroke-linejoin="round"/>
<path d="M265.80,354.80 L265.80,355.30 L265.80,355.80 L265.79,356.30 L265.79,356.80 L265.78,357.30 L265.78,357.80 L265.77,358.30 L265.76,358.80 L265.75,359.30 L265.74,359.80 L265.73,360.30 L265.72,360.80 L265.70,361.30 L265.69,361.80 L265.67,362.30 L265.65,362.80 L265.64,363.30 L265.62,363.80 L265.60,364.30 L265.58,364.80 L265.56,365.30 L265.54,365.80 L265.52,366.30 L265.49,366.80 L265.47,367.30 L265.45,367.80 L265.42,368.30 L265.40,368.80 L265.37,369.30 L265.35,369.80 L265.32,370.30 L265.30,370.80 L265.27,371.30 L265.24,371.80 L265.22,372.30 L265.19,372.80 L265.16,373.30 L265.13,373.80 L265.11,374.30 L265.08,374.80 L265.04,375.30 L265.01,375.80 L264.97,376.30 L264.93,376.80 L264.88,377.30 L264.84,377.80 L264.79,378.30 L264.74,378.80 L264.68,379.30 L264.63,379.80 L264.57,380.30 L264.51,380.80 L264.44,381.30 L264.38,381.80 L264.31,382.30 L264.24,382.80 L264.17,383.30 L264.10,383.80 L264.03,384.30 L263.96,384.80 L263.88,385.30 L263.80,385.80 L263.73,386.30 L263.65,386.80 L263.57,387.30 L263.49,387.80 L263.41,388.30 L263.33,388.80 L263.25,389.30 L263.17,389.80 L263.08,390.30 L263.00,390.80 L262.92,391.30 L262.84,391.80 L262.76,392.30 L262.68,392.80 L262.60,393.30 L262.52,393.80 L262.44,394.30 L262.36,394.80 L262.28,395.30 L262.20,395.80 L262.11,396.30 L262.03,396.80 L261.95,397.30 L261.87,397.80 L261.79,398.30 L261.70,398.80 L261.62,399.30 L261.53,399.80 L261.45,400.30 L261.36,400.80 L261.27,401.30 L261.18,401.80 L261.09,402.30 L261.00,402.80 L260.91,403.30 L260.81,403.80 L260.71,404.30 L260.62,404.80 L260.52,405.30 L260.42,405.80 L260.31,406.30 L260.21,406.80 L260.10,407.30 L259.99,407.80 L259.88,408.30 L259.77,408.80 L259.66,409.30 L259.54,409.80 L259.42,410.30 L259.30,410.80 L259.18,411.30 L259.05,411.80 L258.92,412.30 L258.79,412.80 L258.65,413.30 L258.52,413.80 L258.37,414.30 L258.23,414.80 L258.07,415.30 L257.91,415.80 L257.75,416.30 L257.58,416.80 L257.41,417.30 L257.23,417.80 L257.04,418.30 L256.86,418.80 L256.66,419.30 L256.47,419.80 L256.27,420.30 L256.06,420.80 L255.85,421.30 L255.64,421.80 L255.42,422.30 L255.20,422.80 L254.98,423.30 L254.75,423.80 L254.52,424.30 L254.29,424.80 L254.05,425.30 L253.81,425.80 L253.56,426.30 L253.32,426.80 L253.07,427.30 L252.81,427.80 L252.56,428.30 L252.30,428.80 L252.04,429.30 L251.78,429.80 L251.52,430.30 L251.25,430.80 L250.98,431.30 L250.71,431.80 L250.44,432.30 L250.16,432.80 L249.89,433.30 L249.61,433.80 L249.31,434.30 L249.01,434.80 L248.70,435.30 L248.38,435.80 L248.06,436.30 L247.72,436.80 L247.38,437.30 L247.04,437.80 L246.69,438.30 L246.33,438.80 L245.96,439.30 L245.60,439.80 L245.22,440.30 L244.84,440.80 L244.46,441.30 L244.08,441.80 L243.69,442.30 L243.30,442.80 L242.90,443.30 L242.51,443.80 L242.11,444.30 L241.71,444.80 L241.31,445.30 L240.91,445.80 L240.51,446.30 L240.11,446.80 L239.71,447.30 L239.30,447.80 L238.91,448.30 L238.51,448.80 L238.11,449.30 L237.72,449.80 L237.33,450.30 L236.94,450.80 L236.56,451.30 L236.18,451.80 L235.80,452.30 L235.43,452.80 L235.05,453.30 L234.68,453.80 L234.30,454.30 L233.92,454.80 L233.54,455.30 L233.16,455.80 L232.77,456.30 L232.39,456.80 L232.00,457.30 L231.62,457.80 L231.23,458.30 L230.84,458.80 L230.46,459.30 L230.07,459.80 L229.69,460.30 L229.30,460.80 L228.92,461.30 L228.53,461.80 L228.15,462.30 L227.77,462.80 L227.39,463.30 L227.01,463.80 L226.64,464.30 L226.27,464.80 L225.90,465.30 L225.53,465.80 L225.17,466.30 L224.81,466.80 L224.45,467.30 L224.10,467.80 L223.75,468.30 L223.41,468.80 L223.07,469.30 L222.73,469.80 L222.40,470.30 L222.07,470.80 L221.74,471.30 L221.41,471.80 L221.08,472.30 L220.75,472.80 L220.43,473.30 L220.10,473.80 L219.77,474.30 L219.45,474.80 L219.13,475.30 L218.82,475.80 L218.50,476.30 L218.19,476.80 L217.89,477.30 L217.59,477.80 L217.29,478.30 L217.00,478.80 L216.72,479.30 L216.44,479.80 L216.17,480.30 L215.91,480.80 L215.65,481.30 L215.40,481.80 L215.16,482.30 L214.93,482.80 L214.71,483.30 L214.48,483.80 L214.25,484.30 L214.01,484.80 L213.77,485.30 L213.53,485.80 L213.29,486.30 L213.06,486.80 L212.82,487.30 L212.59,487.80 L212.37,488.30 L212.16,488.80 L211.95,489.30 L211.76,489.80 L211.58,490.30 L211.41,490.80 L211.27,491.30 L211.13,491.80 L211.02,492.30 L210.93,492.80 L210.86,493.30 L210.82,493.80 L210.80,494.30 L210.80,494.80 L210.81,495.30 L210.82,495.80 L210.84,496.30 L210.86,496.80 L210.89,497.30 L210.92,497.80 L210.96,498.30 L211.00,498.80 L211.04,499.30 L211.08,499.80 L211.13,500.30 L211.18,500.80 L211.23,501.30 L211.28,501.80 L211.33,502.30 L211.40,502.80 L211.48,503.30 L211.58,503.80 L211.68,504.30 L211.80,504.80 L211.92,505.30 L212.06,505.80 L212.20,506.30 L212.35,506.80 L212.51,507.30 L212.67,507.80 L212.83,508.30 L213.01,508.80 L213.18,509.30 L213.36,509.80 L213.54,510.30 L213.72,510.80 L213.93,511.30 L214.14,511.80 L214.37,512.30 L214.61,512.80 L214.86,513.30 L215.12,513.80 L215.39,514.30 L215.67,514.80 L215.95,515.30 L216.25,515.80 L216.55,516.30 L216.86,516.80 L217.18,517.30 L217.50,517.80 L217.83,518.30 L218.16,518.80 L218.49,519.30 L218.83,519.80 L219.17,520.30 L219.52,520.80 L219.86,521.30 L220.21,521.80 L220.55,522.30 L220.90,522.80 L221.24,523.30 L221.59,523.80 L221.93,524.30 L222.27,524.80 L222.60,525.30 L222.93,525.80 L223.27,526.30 L223.61,526.80 L223.95,527.30 L224.30,527.80 L224.65,528.30 L225.00,528.80 L225.36,529.30 L225.72,529.80 L226.09,530.30 L226.45,530.80 L226.82,531.30 L227.19,531.80 L227.57,532.30 L227.94,532.80 L228.32,533.30 L228.69,533.80 L229.07,534.30 L229.45,534.80 L229.83,535.30 L230.21,535.80 L230.60,536.30 L230.98,536.80 L231.36,537.30 L231.74,537.80 L232.12,538.30 L232.50,538.80 L232.87,539.30 L233.25,539.80 L233.63,540.30 L234.00,540.80 L234.37,541.30 L234.74,541.80 L235.10,542.30 L235.47,542.80 L235.83,543.30 L236.19,543.80 L236.54,544.30 L236.90,544.80 L237.26,545.30 L237.62,545.80 L237.99,546.30 L238.35,546.80 L238.72,547.30 L239.09,547.80 L239.46,548.30 L239.84,548.80 L240.21,549.30 L240.59,549.80 L240.96,550.30 L241.34,550.80 L241.71,551.30 L242.09,551.80 L242.46,552.30 L242.83,552.80 L243.20,553.30 L243.57,553.80 L243.94,554.30 L244.31,554.80 L244.67,555.30 L245.03,555.80 L245.39,556.30 L245.75,556.80 L246.10,557.30 L246.45,557.80 L246.80,558.30 L247.14,558.80 L247.48,559.30 L247.81,559.80 L248.14,560.30 L248.46,560.80 L248.78,561.30 L249.09,561.80 L249.40,562.30 L249.70,562.80 L249.99,563.30 L250.28,563.80 L250.56,564.30 L250.83,564.80 L251.10,565.30 L251.35,565.80 L251.61,566.30 L251.85,566.80 L252.09,567.30 L252.32,567.80 L252.55,568.30 L252.77,568.80 L253.00,569.30 L253.21,569.80 L253.43,570.30 L253.64,570.80 L253.85,571.30 L254.06,571.80 L254.26,572.30 L254.46,572.80 L254.66,573.30 L254.85,573.80 L255.05,574.30 L255.24,574.80 L255.43,575.30 L255.61,575.80 L255.79,576.30 L255.98,576.80 L256.16,577.30 L256.33,577.80 L256.51,578.30 L256.68,578.80 L256.86,579.30 L257.03,579.80 L257.20,580.30 L257.37,580.80 L257.54,581.30 L257.71,581.80 L257.87,582.30 L258.04,582.80 L258.20,583.30 L258.37,583.80 L258.53,584.30 L258.69,584.80 L258.86,585.30 L259.02,585.80 L259.18,586.30 L259.35,586.80 L259.51,587.30 L259.67,587.80 L259.84,588.30 L260.00,588.80 L260.17,589.30 L260.33,589.80 L260.50,590.30 L260.67,590.80 L260.83,591.30 L261.00,591.80 L261.17,592.30 L261.34,592.80 L261.51,593.30 L261.67,593.80 L261.84,594.30 L262.00,594.80 L262.17,595.30 L262.33,595.80 L262.49,596.30 L262.65,596.80 L262.80,597.30 L262.95,597.80 L263.10,598.30 L263.25,598.80 L263.39,599.30 L263.53,599.80 L263.67,600.30 L263.80,600.80 L263.93,601.30 L264.05,601.80 L264.17,602.30 L264.28,602.80 L264.39,603.30 L264.49,603.80 L264.60,604.30 L264.70,604.80 L264.80,605.30 L264.89,605.80 L264.99,606.30 L265.08,606.80 L265.17,607.30 L265.25,607.80 L265.34,608.30 L265.42,608.80 L265.50,609.30 L265.57,609.80 L265.64,610.30 L265.71,610.80 L265.77,611.30 L265.80,611.50 L265.80,611.50 L265.83,611.30 L265.89,610.80 L265.96,610.30 L266.03,609.80 L266.10,609.30 L266.18,608.80 L266.26,608.30 L266.35,607.80 L266.43,607.30 L266.52,606.80 L266.61,606.30 L266.71,605.80 L266.80,605.30 L266.90,604.80 L267.00,604.30 L267.11,603.80 L267.21,603.30 L267.32,602.80 L267.43,602.30 L267.55,601.80 L267.67,601.30 L267.80,600.80 L267.93,600.30 L268.07,599.80 L268.21,599.30 L268.35,598.80 L268.50,598.30 L268.65,597.80 L268.80,597.30 L268.95,596.80 L269.11,596.30 L269.27,595.80 L269.43,595.30 L269.60,594.80 L269.76,594.30 L269.93,593.80 L270.09,593.30 L270.26,592.80 L270.43,592.30 L270.60,591.80 L270.77,591.30 L270.93,590.80 L271.10,590.30 L271.27,589.80 L271.43,589.30 L271.60,588.80 L271.76,588.30 L271.93,587.80 L272.09,587.30 L272.25,586.80 L272.42,586.30 L272.58,585.80 L272.74,585.30 L272.91,584.80 L273.07,584.30 L273.23,583.80 L273.40,583.30 L273.56,582.80 L273.73,582.30 L273.89,581.80 L274.06,581.30 L274.23,580.80 L274.40,580.30 L274.57,579.80 L274.74,579.30 L274.92,578.80 L275.09,578.30 L275.27,577.80 L275.44,577.30 L275.62,576.80 L275.81,576.30 L275.99,575.80 L276.17,575.30 L276.36,574.80 L276.55,574.30 L276.75,573.80 L276.94,573.30 L277.14,572.80 L277.34,572.30 L277.54,571.80 L277.75,571.30 L277.96,570.80 L278.17,570.30 L278.39,569.80 L278.60,569.30 L278.83,568.80 L279.05,568.30 L279.28,567.80 L279.51,567.30 L279.75,566.80 L279.99,566.30 L280.25,565.80 L280.50,565.30 L280.77,564.80 L281.04,564.30 L281.32,563.80 L281.61,563.30 L281.90,562.80 L282.20,562.30 L282.51,561.80 L282.82,561.30 L283.14,560.80 L283.46,560.30 L283.79,559.80 L284.12,559.30 L284.46,558.80 L284.80,558.30 L285.15,557.80 L285.50,557.30 L285.85,556.80 L286.21,556.30 L286.57,555.80 L286.93,555.30 L287.29,554.80 L287.66,554.30 L288.03,553.80 L288.40,553.30 L288.77,552.80 L289.14,552.30 L289.51,551.80 L289.89,551.30 L290.26,550.80 L290.64,550.30 L291.01,549.80 L291.39,549.30 L291.76,548.80 L292.14,548.30 L292.51,547.80 L292.88,547.30 L293.25,546.80 L293.61,546.30 L293.98,545.80 L294.34,545.30 L294.70,544.80 L295.06,544.30 L295.41,543.80 L295.77,543.30 L296.13,542.80 L296.50,542.30 L296.86,541.80 L297.23,541.30 L297.60,540.80 L297.97,540.30 L298.35,539.80 L298.73,539.30 L299.10,538.80 L299.48,538.30 L299.86,537.80 L300.24,537.30 L300.62,536.80 L301.00,536.30 L301.39,535.80 L301.77,535.30 L302.15,534.80 L302.53,534.30 L302.91,533.80 L303.28,533.30 L303.66,532.80 L304.03,532.30 L304.41,531.80 L304.78,531.30 L305.15,530.80 L305.51,530.30 L305.88,529.80 L306.24,529.30 L306.60,528.80 L306.95,528.30 L307.30,527.80 L307.65,527.30 L307.99,526.80 L308.33,526.30 L308.67,525.80 L309.00,525.30 L309.33,524.80 L309.67,524.30 L310.01,523.80 L310.36,523.30 L310.70,522.80 L311.05,522.30 L311.39,521.80 L311.74,521.30 L312.08,520.80 L312.43,520.30 L312.77,519.80 L313.11,519.30 L313.44,518.80 L313.77,518.30 L314.10,517.80 L314.42,517.30 L314.74,516.80 L315.05,516.30 L315.35,515.80 L315.65,515.30 L315.93,514.80 L316.21,514.30 L316.48,513.80 L316.74,513.30 L316.99,512.80 L317.23,512.30 L317.46,511.80 L317.67,511.30 L317.88,510.80 L318.06,510.30 L318.24,509.80 L318.42,509.30 L318.59,508.80 L318.77,508.30 L318.93,507.80 L319.09,507.30 L319.25,506.80 L319.40,506.30 L319.54,505.80 L319.68,505.30 L319.80,504.80 L319.92,504.30 L320.02,503.80 L320.12,503.30 L320.20,502.80 L320.27,502.30 L320.32,501.80 L320.37,501.30 L320.42,500.80 L320.47,500.30 L320.52,499.80 L320.56,499.30 L320.60,498.80 L320.64,498.30 L320.68,497.80 L320.71,497.30 L320.74,496.80 L320.76,496.30 L320.78,495.80 L320.79,495.30 L320.80,494.80 L320.80,494.30 L320.78,493.80 L320.74,493.30 L320.67,492.80 L320.58,492.30 L320.47,491.80 L320.33,491.30 L320.19,490.80 L320.02,490.30 L319.84,489.80 L319.65,489.30 L319.44,488.80 L319.23,488.30 L319.01,487.80 L318.78,487.30 L318.54,486.80 L318.31,486.30 L318.07,485.80 L317.83,485.30 L317.59,484.80 L317.35,484.30 L317.12,483.80 L316.89,483.30 L316.67,482.80 L316.44,482.30 L316.20,481.80 L315.95,481.30 L315.69,480.80 L315.43,480.30 L315.16,479.80 L314.88,479.30 L314.60,478.80 L314.31,478.30 L314.01,477.80 L313.71,477.30 L313.41,476.80 L313.10,476.30 L312.78,475.80 L312.47,475.30 L312.15,474.80 L311.83,474.30 L311.50,473.80 L311.17,473.30 L310.85,472.80 L310.52,472.30 L310.19,471.80 L309.86,471.30 L309.53,470.80 L309.20,470.30 L308.87,469.80 L308.53,469.30 L308.19,468.80 L307.85,468.30 L307.50,467.80 L307.15,467.30 L306.79,466.80 L306.43,466.30 L306.07,465.80 L305.70,465.30 L305.33,464.80 L304.96,464.30 L304.59,463.80 L304.21,463.30 L303.83,462.80 L303.45,462.30 L303.07,461.80 L302.68,461.30 L302.30,460.80 L301.91,460.30 L301.53,459.80 L301.14,459.30 L300.76,458.80 L300.37,458.30 L299.98,457.80 L299.60,457.30 L299.21,456.80 L298.83,456.30 L298.44,455.80 L298.06,455.30 L297.68,454.80 L297.30,454.30 L296.92,453.80 L296.55,453.30 L296.17,452.80 L295.80,452.30 L295.42,451.80 L295.04,451.30 L294.66,450.80 L294.27,450.30 L293.88,449.80 L293.49,449.30 L293.09,448.80 L292.69,448.30 L292.30,447.80 L291.89,447.30 L291.49,446.80 L291.09,446.30 L290.69,445.80 L290.29,445.30 L289.89,444.80 L289.49,444.30 L289.09,443.80 L288.70,443.30 L288.30,442.80 L287.91,442.30 L287.52,441.80 L287.14,441.30 L286.76,440.80 L286.38,440.30 L286.00,439.80 L285.64,439.30 L285.27,438.80 L284.91,438.30 L284.56,437.80 L284.22,437.30 L283.88,436.80 L283.54,436.30 L283.22,435.80 L282.90,435.30 L282.59,434.80 L282.29,434.30 L281.99,433.80 L281.71,433.30 L281.44,432.80 L281.16,432.30 L280.89,431.80 L280.62,431.30 L280.35,430.80 L280.08,430.30 L279.82,429.80 L279.56,429.30 L279.30,428.80 L279.04,428.30 L278.79,427.80 L278.53,427.30 L278.28,426.80 L278.04,426.30 L277.79,425.80 L277.55,425.30 L277.31,424.80 L277.08,424.30 L276.85,423.80 L276.62,423.30 L276.40,422.80 L276.18,422.30 L275.96,421.80 L275.75,421.30 L275.54,420.80 L275.33,420.30 L275.13,419.80 L274.94,419.30 L274.74,418.80 L274.56,418.30 L274.37,417.80 L274.19,417.30 L274.02,416.80 L273.85,416.30 L273.69,415.80 L273.53,415.30 L273.37,414.80 L273.23,414.30 L273.08,413.80 L272.95,413.30 L272.81,412.80 L272.68,412.30 L272.55,411.80 L272.42,411.30 L272.30,410.80 L272.18,410.30 L272.06,409.80 L271.94,409.30 L271.83,408.80 L271.72,408.30 L271.61,407.80 L271.50,407.30 L271.39,406.80 L271.29,406.30 L271.18,405.80 L271.08,405.30 L270.98,404.80 L270.89,404.30 L270.79,403.80 L270.69,403.30 L270.60,402.80 L270.51,402.30 L270.42,401.80 L270.33,401.30 L270.24,400.80 L270.15,400.30 L270.07,399.80 L269.98,399.30 L269.90,398.80 L269.81,398.30 L269.73,397.80 L269.65,397.30 L269.57,396.80 L269.49,396.30 L269.40,395.80 L269.32,395.30 L269.24,394.80 L269.16,394.30 L269.08,393.80 L269.00,393.30 L268.92,392.80 L268.84,392.30 L268.76,391.80 L268.68,391.30 L268.60,390.80 L268.52,390.30 L268.43,389.80 L268.35,389.30 L268.27,388.80 L268.19,388.30 L268.11,387.80 L268.03,387.30 L267.95,386.80 L267.87,386.30 L267.80,385.80 L267.72,385.30 L267.64,384.80 L267.57,384.30 L267.50,383.80 L267.43,383.30 L267.36,382.80 L267.29,382.30 L267.22,381.80 L267.16,381.30 L267.09,380.80 L267.03,380.30 L266.97,379.80 L266.92,379.30 L266.86,378.80 L266.81,378.30 L266.76,377.80 L266.72,377.30 L266.67,376.80 L266.63,376.30 L266.59,375.80 L266.56,375.30 L266.52,374.80 L266.49,374.30 L266.47,373.80 L266.44,373.30 L266.41,372.80 L266.38,372.30 L266.36,371.80 L266.33,371.30 L266.30,370.80 L266.28,370.30 L266.25,369.80 L266.23,369.30 L266.20,368.80 L266.18,368.30 L266.15,367.80 L266.13,367.30 L266.11,366.80 L266.08,366.30 L266.06,365.80 L266.04,365.30 L266.02,364.80 L266.00,364.30 L265.98,363.80 L265.96,363.30 L265.95,362.80 L265.93,362.30 L265.91,361.80 L265.90,361.30 L265.88,360.80 L265.87,360.30 L265.86,359.80 L265.85,359.30 L265.84,358.80 L265.83,358.30 L265.82,357.80 L265.82,357.30 L265.81,356.80 L265.81,356.30 L265.80,355.80 L265.80,355.30 L265.80,354.80Z" fill="#8dd3c7" stroke="#666" stroke-width="1.1" stroke-linejoin="round"/>
<line x1="75.30" y1="486.4" x2="167.50" y2="486.4" stroke="#777" stroke-width="1.3" stroke-dasharray="2,2.45"/>
<line x1="65.14" y1="512.2" x2="177.66" y2="512.2" stroke="#777" stroke-width="1.3" stroke-dasharray="4.4,4.5"/>
<line x1="78.60" y1="538.5" x2="164.20" y2="538.5" stroke="#777" stroke-width="1.3" stroke-dasharray="2,2.45"/>
<line x1="223.47" y1="470.2" x2="308.13" y2="470.2" stroke="#777" stroke-width="1.3" stroke-dasharray="2,2.45"/>
<line x1="212.05" y1="498.2" x2="319.55" y2="498.2" stroke="#777" stroke-width="1.3" stroke-dasharray="4.4,4.5"/>
<line x1="223.80" y1="525.6" x2="307.80" y2="525.6" stroke="#777" stroke-width="1.3" stroke-dasharray="2,2.45"/>
<text transform="translate(43.50,386.60) scale(1.1,1)" text-anchor="end" font-size="16" fill="#222" font-family="Liberation Sans, sans-serif">4</text>
<text transform="translate(43.50,443.00) scale(1.1,1)" text-anchor="end" font-size="16" fill="#222" font-family="Liberation Sans, sans-serif">3</text>
<text transform="translate(43.50,499.30) scale(1.1,1)" text-anchor="end" font-size="16" fill="#222" font-family="Liberation Sans, sans-serif">2</text>
<text transform="translate(43.50,555.30) scale(1.1,1)" text-anchor="end" font-size="16" fill="#222" font-family="Liberation Sans, sans-serif">1</text>
<text transform="translate(43.50,611.00) scale(1.1,1)" text-anchor="end" font-size="16" fill="#222" font-family="Liberation Sans, sans-serif">0</text>
<text transform="translate(122.00,640.50) scale(1.1,1)" text-anchor="middle" font-size="16" fill="#222" font-family="Liberation Sans, sans-serif">F</text>
<text transform="translate(266.00,640.50) scale(1.1,1)" text-anchor="middle" font-size="16" fill="#222" font-family="Liberation Sans, sans-serif">M</text>
<text transform="translate(193.00,659.40) scale(1.1,1)" text-anchor="middle" letter-spacing="0.8" font-size="16" fill="#222" font-family="Liberation Sans, sans-serif">gender</text>
<text transform="translate(63.40,370.60) scale(1.12,1)" font-size="23" fill="#222" font-family="Liberation Sans, sans-serif">B</text>
<g transform="translate(27.7,484.1) rotate(-90)"><text x="0" y="0" text-anchor="middle" font-size="16.5" fill="#222" font-family="Liberation Sans, sans-serif"><tspan font-style="italic">P</tspan>(<tspan font-style="italic">S</tspan>)</text></g>
<rect x="395.5" y="5.5" width="289" height="618" fill="none" stroke="#333" stroke-width="1"/>
<rect x="431.65" y="252.3" width="18.35" height="371.20" fill="#8dd3c7" stroke="#555" stroke-opacity="0.4" stroke-width="0.8"/>
<rect x="450.00" y="209.0" width="18.35" height="414.50" fill="#ffed6f" stroke="#555" stroke-opacity="0.4" stroke-width="0.8"/>
<rect x="484.15" y="495.0" width="18.35" height="128.50" fill="#8dd3c7" stroke="#555" stroke-opacity="0.4" stroke-width="0.8"/>
<rect x="502.50" y="492.4" width="18.35" height="131.10" fill="#ffed6f" stroke="#555" stroke-opacity="0.4" stroke-width="0.8"/>
<rect x="536.65" y="566.4" width="18.35" height="57.10" fill="#8dd3c7" stroke="#555" stroke-opacity="0.4" stroke-width="0.8"/>
<rect x="555.00" y="569.8" width="18.35" height="53.70" fill="#ffed6f" stroke="#555" stroke-opacity="0.4" stroke-width="0.8"/>
<rect x="589.05" y="591.1" width="18.35" height="32.40" fill="#8dd3c7" stroke="#555" stroke-opacity="0.4" stroke-width="0.8"/>
<rect x="607.40" y="594.2" width="18.35" height="29.30" fill="#ffed6f" stroke="#555" stroke-opacity="0.4" stroke-width="0.8"/>
<rect x="641.45" y="602.3" width="18.35" height="21.20" fill="#8dd3c7" stroke="#555" stroke-opacity="0.4" stroke-width="0.8"/>
<rect x="659.80" y="605.0" width="18.35" height="18.50" fill="#ffed6f" stroke="#555" stroke-opacity="0.4" stroke-width="0.8"/>
<line x1="441.12" y1="100.5" x2="441.12" y2="403.8" stroke="#333" stroke-width="1.2" stroke-opacity="0.9"/>
<line x1="459.18" y1="52.4" x2="459.18" y2="365.6" stroke="#333" stroke-width="1.2" stroke-opacity="0.9"/>
<line x1="493.62" y1="424.5" x2="493.62" y2="564.8" stroke="#333" stroke-width="1.2" stroke-opacity="0.9"/>
<line x1="511.68" y1="415.4" x2="511.68" y2="569.9" stroke="#333" stroke-width="1.2" stroke-opacity="0.9"/>
<line x1="546.12" y1="530.2" x2="546.12" y2="602.8" stroke="#333" stroke-width="1.2" stroke-opacity="0.9"/>
<line x1="564.17" y1="531.4" x2="564.17" y2="607.6" stroke="#333" stroke-width="1.2" stroke-opacity="0.9"/>
<line x1="598.52" y1="569.6" x2="598.52" y2="612.6" stroke="#333" stroke-width="1.2" stroke-opacity="0.9"/>
<line x1="616.57" y1="572.1" x2="616.57" y2="615.7" stroke="#333" stroke-width="1.2" stroke-opacity="0.9"/>
<line x1="650.92" y1="588.1" x2="650.92" y2="616.8" stroke="#333" stroke-width="1.2" stroke-opacity="0.9"/>
<line x1="668.97" y1="590.7" x2="668.97" y2="618.7" stroke="#333" stroke-width="1.2" stroke-opacity="0.9"/>
<line x1="395.5" y1="623.5" x2="684.5" y2="623.5" stroke="#333" stroke-width="1"/>
<text transform="translate(391.80,12.60) scale(1.1,1)" text-anchor="end" letter-spacing="1" font-size="16" fill="#222" font-family="Liberation Sans, sans-serif">0.8</text>
<text transform="translate(391.80,90.30) scale(1.1,1)" text-anchor="end" letter-spacing="1" font-size="16" fill="#222" font-family="Liberation Sans, sans-serif">0.7</text>
<text transform="translate(391.80,168.00) scale(1.1,1)" text-anchor="end" letter-spacing="1" font-size="16" fill="#222" font-family="Liberation Sans, sans-serif">0.6</text>
<text transform="translate(391.80,245.70) scale(1.1,1)" text-anchor="end" letter-spacing="1" font-size="16" fill="#222" font-family="Liberation Sans, sans-serif">0.5</text>
<text transform="translate(391.80,323.40) scale(1.1,1)" text-anchor="end" letter-spacing="1" font-size="16" fill="#222" font-family="Liberation Sans, sans-serif">0.4</text>
<text transform="translate(391.80,401.10) scale(1.1,1)" text-anchor="end" letter-spacing="1" font-size="16" fill="#222" font-family="Liberation Sans, sans-serif">0.3</text>
<text transform="translate(391.80,478.80) scale(1.1,1)" text-anchor="end" letter-spacing="1" font-size="16" fill="#222" font-family="Liberation Sans, sans-serif">0.2</text>
<text transform="translate(391.80,556.50) scale(1.1,1)" text-anchor="end" letter-spacing="1" font-size="16" fill="#222" font-family="Liberation Sans, sans-serif">0.1</text>
<text transform="translate(447.50,640.90) scale(1.1,1)" text-anchor="middle" font-size="16" fill="#222" font-family="Liberation Sans, sans-serif">1</text>
<text transform="translate(500.00,640.90) scale(1.1,1)" text-anchor="middle" font-size="16" fill="#222" font-family="Liberation Sans, sans-serif">2</text>
<text transform="translate(552.50,640.90) scale(1.1,1)" text-anchor="middle" font-size="16" fill="#222" font-family="Liberation Sans, sans-serif">3</text>
<text transform="translate(604.90,640.90) scale(1.1,1)" text-anchor="middle" font-size="16" fill="#222" font-family="Liberation Sans, sans-serif">4</text>
<text transform="translate(657.30,640.90) scale(1.1,1)" text-anchor="middle" font-size="16" fill="#222" font-family="Liberation Sans, sans-serif">5</text>
<text transform="translate(539.00,660.50) scale(1.1,1)" text-anchor="middle" letter-spacing="0.6" font-size="16" fill="#222" font-family="Liberation Sans, sans-serif">top locations visited (n)</text>
<text transform="translate(409.80,33.90) scale(0.99,1)" font-size="24.8" fill="#222" font-family="Liberation Sans, sans-serif">C</text>
<g transform="translate(357.7,339) rotate(-90)" fill="#222" font-family="Liberation Sans, sans-serif"><text x="-0.3" y="1.2" font-size="17">&lt;</text><text x="18.6" y="0" font-size="16" font-style="italic">p</text><text x="29.6" y="2.8" font-size="11" font-style="italic">l</text><text x="32.8" y="1.2" font-size="17">&gt;</text></g>
<rect x="608.5" y="21.5" width="33" height="11.7" fill="#8dd3c7" stroke="#88a" stroke-opacity="0.5" stroke-width="0.8"/>
<rect x="608.5" y="46" width="33" height="11.5" fill="#ffed6f" stroke="#aa9" stroke-opacity="0.6" stroke-width="0.8"/>
<text transform="translate(655.20,33.20) scale(1.04,1)" font-size="16" fill="#222" font-family="Liberation Sans, sans-serif">M</text>
<text transform="translate(655.30,57.50) scale(1.04,1)" font-size="16" fill="#222" font-family="Liberation Sans, sans-serif">F</text>
</svg>
</body></html>
